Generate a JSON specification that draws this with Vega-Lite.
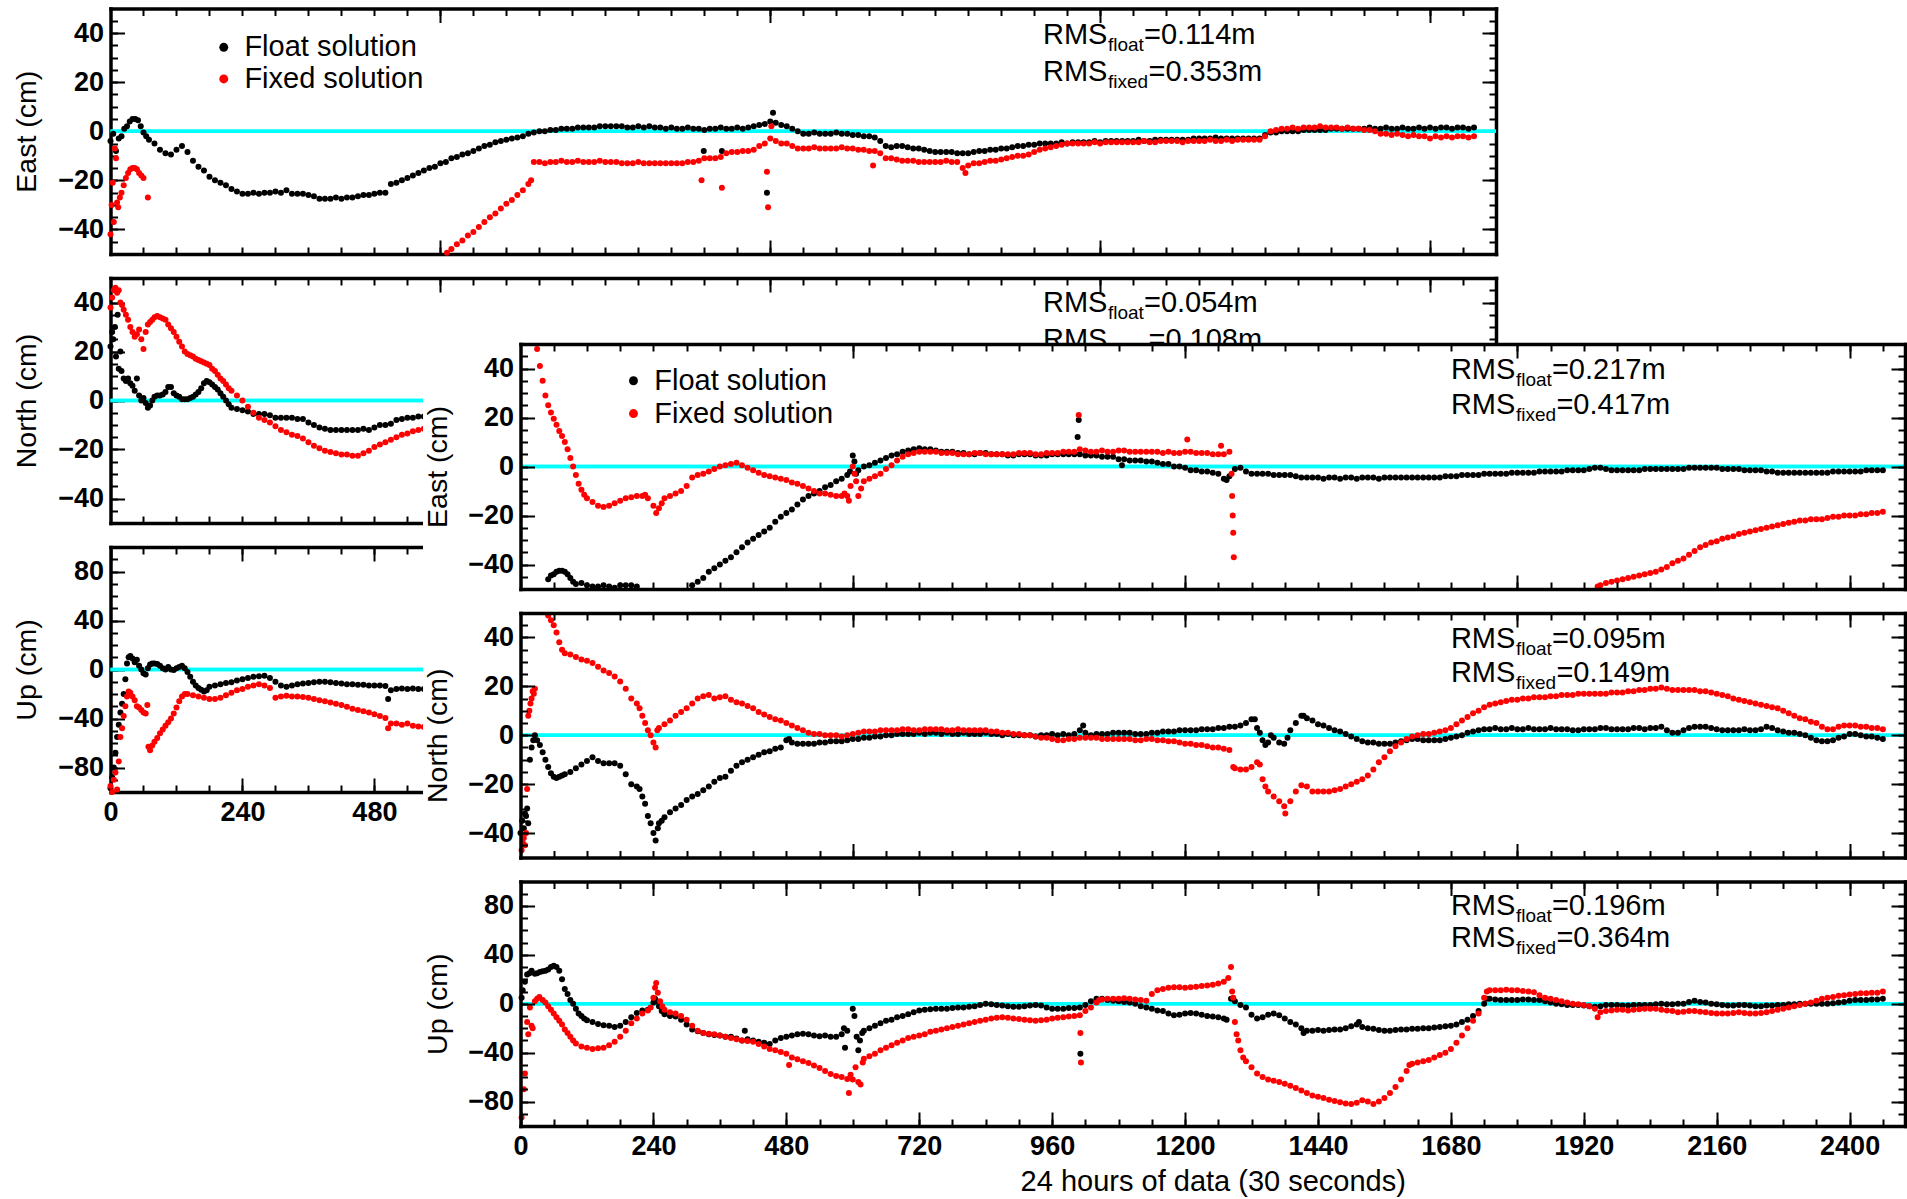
{
"$schema":"https://vega.github.io/schema/vega-lite/v6.json",
"width":1907,"height":1199,"autosize":"none","padding":0,
"background":"white",
"config":{"view":{"stroke":null},
"axis":{"domainColor":"#000","tickColor":"#000","labelColor":"#000","titleColor":"#000","labelFont":"Liberation Sans","titleFont":"Liberation Sans","labelFontSize":27,"labelFontWeight":"bold","titleFontSize":28.5,"titleFontWeight":"normal","grid":false,"tickWidth":2,"domainWidth":3.5,"domainCap":"square","labelFlush":false,"labelOverlap":false,"labelPadding":21},
"text":{"font":"Liberation Sans","color":"black"}},
"data":{"values":[{"note":"annotation"}]},
"datasets":{
"bEf":[{"x":0,"y":-4},{"x":5,"y":-1},{"x":10,"y":-8},{"x":15,"y":-3},{"x":20,"y":-2},{"x":25,"y":1},{"x":30,"y":2},{"x":35,"y":4},{"x":40,"y":5},{"x":45,"y":5},{"x":50,"y":4.5},{"x":55,"y":2},{"x":60,"y":-0.5},{"x":65,"y":-2},{"x":70,"y":-3.5},{"x":80,"y":-5},{"x":90,"y":-7.5},{"x":100,"y":-9},{"x":110,"y":-9.5},{"x":120,"y":-7.5},{"x":130,"y":-6},{"x":140,"y":-8.5},{"x":150,"y":-12},{"x":160,"y":-14.5},{"x":170,"y":-16},{"x":180,"y":-18.5},{"x":190,"y":-20},{"x":200,"y":-21},{"x":210,"y":-22},{"x":220,"y":-23.5},{"x":230,"y":-24.5},{"x":240,"y":-25.5},{"x":250,"y":-25.5},{"x":260,"y":-25},{"x":270,"y":-25.5},{"x":280,"y":-25},{"x":290,"y":-25},{"x":300,"y":-24.5},{"x":310,"y":-25},{"x":320,"y":-24},{"x":330,"y":-25.5},{"x":340,"y":-25.5},{"x":350,"y":-25.5},{"x":360,"y":-26},{"x":370,"y":-26.5},{"x":380,"y":-27.5},{"x":390,"y":-27.5},{"x":400,"y":-27.5},{"x":410,"y":-27},{"x":420,"y":-27.5},{"x":430,"y":-27},{"x":440,"y":-27},{"x":450,"y":-26.5},{"x":460,"y":-26},{"x":470,"y":-26},{"x":480,"y":-25.5},{"x":490,"y":-25},{"x":500,"y":-25},{"x":510,"y":-21.5},{"x":520,"y":-21},{"x":530,"y":-20},{"x":540,"y":-19},{"x":550,"y":-18},{"x":560,"y":-17},{"x":570,"y":-16},{"x":580,"y":-15},{"x":590,"y":-14.5},{"x":600,"y":-13},{"x":610,"y":-12.5},{"x":620,"y":-11},{"x":630,"y":-10.5},{"x":640,"y":-9.5},{"x":650,"y":-9},{"x":660,"y":-8},{"x":670,"y":-7},{"x":680,"y":-6},{"x":690,"y":-5.5},{"x":700,"y":-4.5},{"x":710,"y":-4},{"x":720,"y":-3.5},{"x":730,"y":-3},{"x":740,"y":-2.5},{"x":750,"y":-2},{"x":760,"y":-1},{"x":770,"y":-0.5},{"x":780,"y":0},{"x":790,"y":0},{"x":800,"y":0.5},{"x":810,"y":0.5},{"x":820,"y":1},{"x":830,"y":1},{"x":840,"y":1},{"x":850,"y":1.5},{"x":860,"y":1.5},{"x":870,"y":1.5},{"x":880,"y":1.5},{"x":890,"y":2},{"x":900,"y":2},{"x":910,"y":2},{"x":920,"y":2},{"x":930,"y":2},{"x":940,"y":1.5},{"x":950,"y":1.5},{"x":960,"y":2},{"x":970,"y":1.5},{"x":980,"y":2},{"x":990,"y":1.5},{"x":1000,"y":1.5},{"x":1010,"y":1},{"x":1020,"y":1.5},{"x":1030,"y":1},{"x":1040,"y":1},{"x":1050,"y":1.5},{"x":1060,"y":1},{"x":1070,"y":1},{"x":1079,"y":-8},{"x":1080,"y":0.5},{"x":1090,"y":1},{"x":1100,"y":1},{"x":1110,"y":1.5},{"x":1112,"y":-8},{"x":1120,"y":1},{"x":1130,"y":1},{"x":1140,"y":1.5},{"x":1150,"y":1},{"x":1160,"y":1.5},{"x":1170,"y":2},{"x":1180,"y":2.5},{"x":1190,"y":3},{"x":1194,"y":-25},{"x":1200,"y":4},{"x":1205,"y":7.5},{"x":1210,"y":3.5},{"x":1220,"y":2.5},{"x":1230,"y":2},{"x":1240,"y":1},{"x":1250,"y":0},{"x":1260,"y":-1},{"x":1270,"y":-1},{"x":1280,"y":-0.5},{"x":1290,"y":-1},{"x":1300,"y":-1},{"x":1310,"y":-1},{"x":1320,"y":-0.5},{"x":1330,"y":-1},{"x":1340,"y":-1},{"x":1350,"y":-1.5},{"x":1360,"y":-1.5},{"x":1370,"y":-2},{"x":1380,"y":-2},{"x":1390,"y":-2.5},{"x":1400,"y":-4},{"x":1410,"y":-6},{"x":1420,"y":-6.5},{"x":1430,"y":-6},{"x":1440,"y":-6},{"x":1450,"y":-6.5},{"x":1460,"y":-7},{"x":1470,"y":-7},{"x":1480,"y":-7.5},{"x":1490,"y":-8},{"x":1500,"y":-8.5},{"x":1510,"y":-8.5},{"x":1520,"y":-8.5},{"x":1530,"y":-8.5},{"x":1540,"y":-9},{"x":1550,"y":-9},{"x":1560,"y":-9},{"x":1570,"y":-8.5},{"x":1580,"y":-8},{"x":1590,"y":-8},{"x":1600,"y":-7.5},{"x":1610,"y":-7.5},{"x":1620,"y":-7},{"x":1630,"y":-7},{"x":1640,"y":-6.5},{"x":1650,"y":-6},{"x":1660,"y":-6},{"x":1670,"y":-5.5},{"x":1680,"y":-5.5},{"x":1690,"y":-5},{"x":1700,"y":-5},{"x":1710,"y":-5},{"x":1720,"y":-5},{"x":1730,"y":-4.5},{"x":1740,"y":-5},{"x":1750,"y":-4.5},{"x":1760,"y":-4.5},{"x":1770,"y":-4.5},{"x":1780,"y":-4.5},{"x":1790,"y":-4},{"x":1800,"y":-4.5},{"x":1810,"y":-4},{"x":1820,"y":-4},{"x":1830,"y":-4},{"x":1840,"y":-4},{"x":1850,"y":-4},{"x":1860,"y":-4},{"x":1870,"y":-3.5},{"x":1880,"y":-4},{"x":1890,"y":-4},{"x":1900,"y":-3.5},{"x":1910,"y":-3.5},{"x":1920,"y":-3.5},{"x":1930,"y":-3.5},{"x":1940,"y":-3.5},{"x":1950,"y":-3.5},{"x":1960,"y":-3.5},{"x":1970,"y":-3},{"x":1980,"y":-3},{"x":1990,"y":-3},{"x":2000,"y":-3},{"x":2010,"y":-2.5},{"x":2020,"y":-3},{"x":2030,"y":-3},{"x":2040,"y":-3},{"x":2050,"y":-3},{"x":2060,"y":-3},{"x":2070,"y":-3},{"x":2080,"y":-3},{"x":2090,"y":-3},{"x":2100,"y":-1.5},{"x":2110,"y":-0.5},{"x":2120,"y":-0.5},{"x":2130,"y":0},{"x":2140,"y":0},{"x":2150,"y":0},{"x":2160,"y":0},{"x":2170,"y":0.5},{"x":2180,"y":0.5},{"x":2190,"y":0.5},{"x":2200,"y":0.5},{"x":2210,"y":0.5},{"x":2220,"y":1},{"x":2230,"y":1},{"x":2240,"y":1},{"x":2250,"y":1},{"x":2260,"y":1},{"x":2270,"y":1},{"x":2280,"y":1},{"x":2290,"y":1.5},{"x":2300,"y":1},{"x":2310,"y":1},{"x":2320,"y":1.5},{"x":2330,"y":1},{"x":2340,"y":1},{"x":2350,"y":1.5},{"x":2360,"y":1},{"x":2370,"y":1},{"x":2380,"y":1.5},{"x":2390,"y":1},{"x":2400,"y":1.5},{"x":2410,"y":1},{"x":2420,"y":1.5},{"x":2430,"y":1.5},{"x":2440,"y":1},{"x":2450,"y":1.5},{"x":2460,"y":1.5},{"x":2470,"y":1},{"x":2480,"y":1.5}],
"bEx":[{"x":0,"y":-42},{"x":2,"y":-30},{"x":4,"y":-21},{"x":6,"y":-37},{"x":8,"y":-7},{"x":10,"y":-11},{"x":12,"y":-29},{"x":14,"y":-31},{"x":17,"y":-27},{"x":20,"y":-25},{"x":24,"y":-22},{"x":28,"y":-19},{"x":32,"y":-17},{"x":36,"y":-15.5},{"x":40,"y":-15},{"x":44,"y":-15},{"x":48,"y":-15.5},{"x":52,"y":-17},{"x":56,"y":-18},{"x":60,"y":-19},{"x":68,"y":-27},{"x":612,"y":-49.5},{"x":620,"y":-48},{"x":630,"y":-46},{"x":640,"y":-44.5},{"x":650,"y":-42.5},{"x":660,"y":-41},{"x":670,"y":-39},{"x":680,"y":-37},{"x":690,"y":-35},{"x":700,"y":-33.5},{"x":710,"y":-31.5},{"x":720,"y":-29.5},{"x":730,"y":-28},{"x":740,"y":-26},{"x":750,"y":-24},{"x":760,"y":-21.5},{"x":765,"y":-20},{"x":770,"y":-12.5},{"x":780,"y":-12.5},{"x":790,"y":-13},{"x":800,"y":-12.5},{"x":810,"y":-12.5},{"x":820,"y":-12},{"x":830,"y":-12.5},{"x":840,"y":-12.5},{"x":850,"y":-12},{"x":860,"y":-12.5},{"x":870,"y":-12.5},{"x":880,"y":-12.5},{"x":890,"y":-12},{"x":900,"y":-12.5},{"x":910,"y":-12.5},{"x":920,"y":-12.5},{"x":930,"y":-13},{"x":940,"y":-13},{"x":950,"y":-13},{"x":960,"y":-12.5},{"x":970,"y":-13},{"x":980,"y":-13},{"x":990,"y":-13},{"x":1000,"y":-13},{"x":1010,"y":-13},{"x":1020,"y":-13},{"x":1030,"y":-13},{"x":1040,"y":-13},{"x":1050,"y":-12.5},{"x":1060,"y":-12.5},{"x":1070,"y":-12},{"x":1075,"y":-20},{"x":1080,"y":-11},{"x":1090,"y":-11},{"x":1100,"y":-11},{"x":1110,"y":-10.5},{"x":1112,"y":-23},{"x":1120,"y":-9},{"x":1130,"y":-8.5},{"x":1140,"y":-8.5},{"x":1150,"y":-8},{"x":1160,"y":-8},{"x":1170,"y":-7.5},{"x":1180,"y":-6},{"x":1190,"y":-5},{"x":1194,"y":-16.5},{"x":1196,"y":-31},{"x":1200,"y":-3},{"x":1202,"y":2},{"x":1210,"y":-4},{"x":1220,"y":-5},{"x":1230,"y":-5},{"x":1240,"y":-6},{"x":1250,"y":-7},{"x":1260,"y":-7},{"x":1270,"y":-7},{"x":1280,"y":-6.5},{"x":1290,"y":-7},{"x":1300,"y":-7},{"x":1310,"y":-7},{"x":1320,"y":-7},{"x":1330,"y":-6.5},{"x":1340,"y":-7},{"x":1350,"y":-7},{"x":1360,"y":-7.5},{"x":1370,"y":-7.5},{"x":1380,"y":-8},{"x":1387,"y":-14},{"x":1390,"y":-8},{"x":1400,"y":-9},{"x":1410,"y":-11},{"x":1420,"y":-11},{"x":1430,"y":-11.5},{"x":1440,"y":-12},{"x":1450,"y":-12},{"x":1460,"y":-12},{"x":1470,"y":-12.5},{"x":1480,"y":-12.5},{"x":1490,"y":-12.5},{"x":1500,"y":-12.5},{"x":1510,"y":-12.5},{"x":1520,"y":-12},{"x":1530,"y":-12.5},{"x":1540,"y":-12.5},{"x":1550,"y":-15},{"x":1555,"y":-17},{"x":1560,"y":-14},{"x":1570,"y":-13},{"x":1580,"y":-13},{"x":1590,"y":-12.5},{"x":1600,"y":-12},{"x":1610,"y":-12},{"x":1620,"y":-11.5},{"x":1630,"y":-11},{"x":1640,"y":-10.5},{"x":1650,"y":-10},{"x":1660,"y":-10},{"x":1670,"y":-9.5},{"x":1680,"y":-8.5},{"x":1690,"y":-7.5},{"x":1700,"y":-7},{"x":1710,"y":-6.5},{"x":1720,"y":-6},{"x":1730,"y":-5.5},{"x":1740,"y":-5},{"x":1750,"y":-5},{"x":1760,"y":-5},{"x":1770,"y":-5},{"x":1780,"y":-5},{"x":1790,"y":-4.5},{"x":1800,"y":-5},{"x":1810,"y":-4.5},{"x":1820,"y":-4.5},{"x":1830,"y":-4.5},{"x":1840,"y":-4.5},{"x":1850,"y":-4.5},{"x":1860,"y":-4.5},{"x":1870,"y":-4.5},{"x":1880,"y":-4},{"x":1890,"y":-4.5},{"x":1900,"y":-4.5},{"x":1910,"y":-4},{"x":1920,"y":-4},{"x":1930,"y":-4},{"x":1940,"y":-4},{"x":1950,"y":-4.5},{"x":1960,"y":-4},{"x":1970,"y":-4},{"x":1980,"y":-4},{"x":1990,"y":-4},{"x":2000,"y":-3.5},{"x":2010,"y":-4},{"x":2020,"y":-4},{"x":2030,"y":-3.5},{"x":2040,"y":-4},{"x":2050,"y":-3.5},{"x":2060,"y":-3.5},{"x":2070,"y":-3.5},{"x":2080,"y":-3.5},{"x":2090,"y":-3.5},{"x":2100,"y":-2},{"x":2110,"y":0},{"x":2120,"y":0.5},{"x":2130,"y":1},{"x":2140,"y":1},{"x":2150,"y":1.5},{"x":2160,"y":1},{"x":2170,"y":1.5},{"x":2180,"y":1.5},{"x":2190,"y":1.5},{"x":2200,"y":2},{"x":2210,"y":1.5},{"x":2220,"y":1.5},{"x":2230,"y":1.5},{"x":2240,"y":1},{"x":2250,"y":1.5},{"x":2260,"y":1},{"x":2270,"y":1},{"x":2280,"y":0.5},{"x":2290,"y":0.5},{"x":2300,"y":0},{"x":2310,"y":-1},{"x":2320,"y":-1},{"x":2330,"y":-1.5},{"x":2340,"y":-1},{"x":2350,"y":-1.5},{"x":2360,"y":-2},{"x":2370,"y":-1.5},{"x":2380,"y":-2},{"x":2390,"y":-2},{"x":2400,"y":-3},{"x":2410,"y":-2},{"x":2420,"y":-2.5},{"x":2430,"y":-2},{"x":2440,"y":-2.5},{"x":2450,"y":-2},{"x":2460,"y":-2},{"x":2470,"y":-2.5},{"x":2480,"y":-2}],
"bNf":[{"x":0,"y":22},{"x":3,"y":28},{"x":5,"y":25},{"x":8,"y":30},{"x":10,"y":18},{"x":13,"y":35},{"x":15,"y":13},{"x":18,"y":20},{"x":20,"y":12},{"x":24,"y":9},{"x":28,"y":8},{"x":32,"y":9},{"x":36,"y":7},{"x":40,"y":6},{"x":44,"y":4},{"x":48,"y":9},{"x":52,"y":2},{"x":56,"y":0},{"x":60,"y":1},{"x":64,"y":-1},{"x":68,"y":-3},{"x":72,"y":-2},{"x":76,"y":0},{"x":80,"y":1.5},{"x":85,"y":2},{"x":90,"y":2},{"x":95,"y":2.5},{"x":100,"y":3.5},{"x":105,"y":5.5},{"x":110,"y":5.5},{"x":115,"y":3},{"x":120,"y":2},{"x":125,"y":1.5},{"x":130,"y":0.5},{"x":135,"y":0.5},{"x":140,"y":0.5},{"x":145,"y":1},{"x":150,"y":1.5},{"x":155,"y":2.5},{"x":160,"y":3.5},{"x":165,"y":5},{"x":170,"y":7},{"x":175,"y":8},{"x":180,"y":7.5},{"x":185,"y":6.5},{"x":190,"y":5.5},{"x":195,"y":4.5},{"x":200,"y":3},{"x":205,"y":1.5},{"x":210,"y":0},{"x":215,"y":-1.5},{"x":220,"y":-3},{"x":230,"y":-3.5},{"x":240,"y":-4},{"x":250,"y":-4.5},{"x":260,"y":-5.5},{"x":270,"y":-5.5},{"x":280,"y":-5.5},{"x":290,"y":-6},{"x":300,"y":-7},{"x":310,"y":-7},{"x":320,"y":-7},{"x":330,"y":-7},{"x":340,"y":-7.5},{"x":350,"y":-7.5},{"x":360,"y":-9},{"x":370,"y":-10},{"x":380,"y":-11},{"x":390,"y":-11.5},{"x":400,"y":-12},{"x":410,"y":-12},{"x":420,"y":-12},{"x":430,"y":-12},{"x":440,"y":-12},{"x":450,"y":-12},{"x":460,"y":-11.5},{"x":470,"y":-12},{"x":480,"y":-11},{"x":490,"y":-10},{"x":500,"y":-10},{"x":510,"y":-9.5},{"x":520,"y":-8},{"x":530,"y":-7.5},{"x":540,"y":-7},{"x":550,"y":-7},{"x":560,"y":-6.5},{"x":570,"y":-6.5}],
"bNx":[{"x":0,"y":38},{"x":3,"y":42},{"x":6,"y":45},{"x":9,"y":46},{"x":12,"y":44},{"x":15,"y":45},{"x":18,"y":40},{"x":21,"y":39},{"x":24,"y":37},{"x":28,"y":35},{"x":32,"y":33},{"x":36,"y":30},{"x":40,"y":28},{"x":44,"y":26},{"x":48,"y":27},{"x":52,"y":29},{"x":56,"y":25},{"x":60,"y":21},{"x":64,"y":28},{"x":68,"y":31},{"x":72,"y":32},{"x":76,"y":33},{"x":80,"y":34},{"x":85,"y":34.5},{"x":90,"y":34},{"x":95,"y":33.5},{"x":100,"y":33},{"x":105,"y":31},{"x":110,"y":29.5},{"x":115,"y":28},{"x":120,"y":26},{"x":125,"y":24},{"x":130,"y":22},{"x":135,"y":20},{"x":140,"y":19},{"x":145,"y":18.5},{"x":150,"y":18},{"x":155,"y":17},{"x":160,"y":16.5},{"x":165,"y":16},{"x":170,"y":15.5},{"x":175,"y":15},{"x":180,"y":14.5},{"x":185,"y":13},{"x":190,"y":12},{"x":195,"y":10.5},{"x":200,"y":9},{"x":205,"y":8},{"x":210,"y":6.5},{"x":215,"y":5},{"x":220,"y":4},{"x":230,"y":2},{"x":240,"y":0},{"x":250,"y":-2.5},{"x":260,"y":-5},{"x":270,"y":-7},{"x":280,"y":-8},{"x":290,"y":-9},{"x":300,"y":-10.5},{"x":310,"y":-12},{"x":320,"y":-13},{"x":330,"y":-14},{"x":340,"y":-14.5},{"x":350,"y":-15.5},{"x":360,"y":-17},{"x":370,"y":-18.5},{"x":380,"y":-19.5},{"x":390,"y":-20.5},{"x":400,"y":-21},{"x":410,"y":-21.5},{"x":420,"y":-22},{"x":430,"y":-22},{"x":440,"y":-22.5},{"x":450,"y":-22.5},{"x":460,"y":-21.5},{"x":470,"y":-20.5},{"x":480,"y":-19},{"x":490,"y":-18},{"x":500,"y":-17},{"x":510,"y":-16},{"x":520,"y":-15},{"x":530,"y":-14},{"x":540,"y":-13.5},{"x":550,"y":-12.5},{"x":560,"y":-12},{"x":570,"y":-11.5}],
"bUf":[{"x":0,"y":-97},{"x":3,"y":-88},{"x":6,"y":-80},{"x":9,"y":-68},{"x":12,"y":-55},{"x":15,"y":-45},{"x":18,"y":-35},{"x":21,"y":-28},{"x":24,"y":-20},{"x":27,"y":-8},{"x":30,"y":5},{"x":33,"y":10},{"x":36,"y":11},{"x":40,"y":9},{"x":44,"y":6},{"x":48,"y":8},{"x":52,"y":3},{"x":56,"y":0},{"x":60,"y":-3},{"x":64,"y":-4},{"x":68,"y":1},{"x":72,"y":4},{"x":76,"y":5},{"x":80,"y":5},{"x":85,"y":4.5},{"x":90,"y":3},{"x":95,"y":1},{"x":100,"y":0},{"x":105,"y":2},{"x":110,"y":0},{"x":115,"y":-0.5},{"x":120,"y":1},{"x":125,"y":2},{"x":130,"y":3},{"x":135,"y":1},{"x":140,"y":-2},{"x":145,"y":-6},{"x":150,"y":-10},{"x":155,"y":-13},{"x":160,"y":-15},{"x":165,"y":-16.5},{"x":170,"y":-18},{"x":175,"y":-17},{"x":180,"y":-14},{"x":190,"y":-13},{"x":200,"y":-12},{"x":210,"y":-11},{"x":220,"y":-10.5},{"x":230,"y":-9},{"x":240,"y":-8},{"x":250,"y":-7},{"x":260,"y":-6},{"x":270,"y":-5.5},{"x":280,"y":-5},{"x":290,"y":-7},{"x":300,"y":-10},{"x":310,"y":-13},{"x":320,"y":-14},{"x":330,"y":-13},{"x":340,"y":-12},{"x":350,"y":-11.5},{"x":360,"y":-11},{"x":370,"y":-10.5},{"x":380,"y":-10},{"x":390,"y":-10},{"x":400,"y":-10.5},{"x":410,"y":-11},{"x":420,"y":-11.5},{"x":430,"y":-12},{"x":440,"y":-12},{"x":450,"y":-12.5},{"x":460,"y":-12.5},{"x":470,"y":-13},{"x":480,"y":-13},{"x":490,"y":-13},{"x":500,"y":-13.5},{"x":505,"y":-24},{"x":510,"y":-17},{"x":520,"y":-16},{"x":530,"y":-15.5},{"x":540,"y":-16},{"x":550,"y":-15.5},{"x":560,"y":-16},{"x":570,"y":-16}],
"bUx":[{"x":0,"y":-95},{"x":3,"y":-100},{"x":6,"y":-90},{"x":9,"y":-84},{"x":12,"y":-98},{"x":15,"y":-75},{"x":18,"y":-55},{"x":21,"y":-48},{"x":24,"y":-38},{"x":27,"y":-30},{"x":30,"y":-22},{"x":33,"y":-18},{"x":36,"y":-19},{"x":40,"y":-22},{"x":44,"y":-25},{"x":48,"y":-30},{"x":52,"y":-31},{"x":56,"y":-33},{"x":60,"y":-35},{"x":64,"y":-36},{"x":67,"y":-29},{"x":69,"y":-63},{"x":72,"y":-66},{"x":76,"y":-62},{"x":80,"y":-59},{"x":85,"y":-56},{"x":90,"y":-52},{"x":95,"y":-49},{"x":100,"y":-46},{"x":105,"y":-43},{"x":110,"y":-40},{"x":115,"y":-36},{"x":120,"y":-31},{"x":125,"y":-26},{"x":130,"y":-22},{"x":135,"y":-20},{"x":140,"y":-20},{"x":150,"y":-21},{"x":160,"y":-22},{"x":170,"y":-23},{"x":180,"y":-24},{"x":190,"y":-24},{"x":200,"y":-23},{"x":210,"y":-21},{"x":220,"y":-19},{"x":230,"y":-17},{"x":240,"y":-16},{"x":250,"y":-14},{"x":260,"y":-13},{"x":270,"y":-12},{"x":280,"y":-13},{"x":290,"y":-15},{"x":300,"y":-23},{"x":310,"y":-22},{"x":320,"y":-21.5},{"x":330,"y":-22},{"x":340,"y":-22},{"x":350,"y":-22.5},{"x":360,"y":-23},{"x":370,"y":-24},{"x":380,"y":-25},{"x":390,"y":-26},{"x":400,"y":-27},{"x":410,"y":-28},{"x":420,"y":-29},{"x":430,"y":-30.5},{"x":440,"y":-32},{"x":450,"y":-33},{"x":460,"y":-34},{"x":470,"y":-35},{"x":480,"y":-36.5},{"x":490,"y":-38},{"x":500,"y":-39.5},{"x":505,"y":-48},{"x":510,"y":-44},{"x":520,"y":-44},{"x":530,"y":-45},{"x":540,"y":-44},{"x":550,"y":-46},{"x":560,"y":-46.5},{"x":570,"y":-47}],
"fEf":[{"x":50,"y":-46},{"x":55,"y":-44.5},{"x":60,"y":-44},{"x":65,"y":-43},{"x":70,"y":-42.5},{"x":75,"y":-42.5},{"x":80,"y":-43},{"x":85,"y":-44},{"x":90,"y":-45.5},{"x":95,"y":-47},{"x":100,"y":-48},{"x":110,"y":-47.5},{"x":120,"y":-48.5},{"x":130,"y":-49},{"x":140,"y":-49},{"x":150,"y":-48.5},{"x":160,"y":-49},{"x":170,"y":-49.5},{"x":180,"y":-48.5},{"x":190,"y":-48.5},{"x":200,"y":-48.5},{"x":210,"y":-49},{"x":310,"y":-48.5},{"x":320,"y":-47},{"x":330,"y":-45.5},{"x":340,"y":-43},{"x":350,"y":-41.5},{"x":360,"y":-40},{"x":370,"y":-38.5},{"x":380,"y":-37},{"x":390,"y":-35},{"x":400,"y":-33},{"x":410,"y":-31},{"x":420,"y":-29.5},{"x":430,"y":-28},{"x":440,"y":-26.5},{"x":450,"y":-25},{"x":460,"y":-22.5},{"x":470,"y":-20.5},{"x":480,"y":-19},{"x":490,"y":-17.5},{"x":500,"y":-15.5},{"x":510,"y":-13.5},{"x":520,"y":-12},{"x":530,"y":-11},{"x":540,"y":-10},{"x":550,"y":-8.5},{"x":560,"y":-7.5},{"x":570,"y":-6},{"x":580,"y":-5},{"x":590,"y":-3.5},{"x":595,"y":-2},{"x":600,"y":4.5},{"x":603,"y":2},{"x":606,"y":-3},{"x":610,"y":-1.5},{"x":620,"y":0},{"x":630,"y":0.5},{"x":640,"y":1.5},{"x":650,"y":2.5},{"x":660,"y":3.5},{"x":670,"y":4.5},{"x":680,"y":5},{"x":690,"y":6},{"x":700,"y":6.5},{"x":710,"y":7},{"x":720,"y":7.5},{"x":730,"y":7},{"x":740,"y":7},{"x":750,"y":6.5},{"x":760,"y":6},{"x":770,"y":6},{"x":780,"y":6},{"x":790,"y":5.5},{"x":800,"y":5.5},{"x":810,"y":5},{"x":820,"y":5},{"x":830,"y":5.5},{"x":840,"y":5.5},{"x":850,"y":5},{"x":860,"y":5},{"x":870,"y":5},{"x":880,"y":4.5},{"x":890,"y":4.5},{"x":900,"y":5},{"x":910,"y":5},{"x":920,"y":5},{"x":930,"y":4.5},{"x":940,"y":4.5},{"x":950,"y":4.5},{"x":960,"y":5},{"x":970,"y":5},{"x":980,"y":5},{"x":990,"y":5},{"x":1000,"y":5},{"x":1006,"y":12},{"x":1008,"y":19},{"x":1010,"y":5},{"x":1020,"y":4.5},{"x":1030,"y":4.5},{"x":1040,"y":4.5},{"x":1050,"y":4},{"x":1060,"y":4},{"x":1070,"y":4},{"x":1080,"y":3},{"x":1086,"y":0.5},{"x":1090,"y":3},{"x":1100,"y":2.5},{"x":1110,"y":2.5},{"x":1120,"y":2.5},{"x":1130,"y":2},{"x":1140,"y":2},{"x":1150,"y":1.5},{"x":1160,"y":1},{"x":1170,"y":1},{"x":1180,"y":0},{"x":1190,"y":0},{"x":1200,"y":-0.5},{"x":1210,"y":-1.5},{"x":1220,"y":-1.5},{"x":1230,"y":-2},{"x":1240,"y":-2},{"x":1250,"y":-2.5},{"x":1260,"y":-3},{"x":1270,"y":-5},{"x":1275,"y":-5.5},{"x":1280,"y":-4},{"x":1290,"y":-1},{"x":1300,"y":-0.5},{"x":1310,"y":-2},{"x":1320,"y":-3},{"x":1330,"y":-3},{"x":1340,"y":-3},{"x":1350,"y":-3},{"x":1360,"y":-3.5},{"x":1370,"y":-3.5},{"x":1380,"y":-3.5},{"x":1390,"y":-3.5},{"x":1400,"y":-4},{"x":1410,"y":-4.5},{"x":1420,"y":-4.5},{"x":1430,"y":-4.5},{"x":1440,"y":-4.5},{"x":1450,"y":-5},{"x":1460,"y":-4.5},{"x":1470,"y":-4.5},{"x":1480,"y":-5},{"x":1490,"y":-4.5},{"x":1500,"y":-4.5},{"x":1510,"y":-5},{"x":1520,"y":-4.5},{"x":1530,"y":-4.5},{"x":1540,"y":-4.5},{"x":1550,"y":-5},{"x":1560,"y":-4.5},{"x":1570,"y":-4.5},{"x":1580,"y":-4.5},{"x":1590,"y":-4.5},{"x":1600,"y":-4.5},{"x":1610,"y":-4.5},{"x":1620,"y":-4.5},{"x":1630,"y":-4.5},{"x":1640,"y":-4.5},{"x":1650,"y":-4.5},{"x":1660,"y":-4.5},{"x":1670,"y":-4},{"x":1680,"y":-4},{"x":1690,"y":-4},{"x":1700,"y":-3.5},{"x":1710,"y":-3.5},{"x":1720,"y":-3.5},{"x":1730,"y":-3.5},{"x":1740,"y":-3},{"x":1750,"y":-3},{"x":1760,"y":-3},{"x":1770,"y":-3},{"x":1780,"y":-3},{"x":1790,"y":-2.5},{"x":1800,"y":-2.5},{"x":1810,"y":-2.5},{"x":1820,"y":-2.5},{"x":1830,"y":-2.5},{"x":1840,"y":-2},{"x":1850,"y":-2},{"x":1860,"y":-2},{"x":1870,"y":-2},{"x":1880,"y":-2},{"x":1890,"y":-1.5},{"x":1900,"y":-1.5},{"x":1910,"y":-1.5},{"x":1920,"y":-1.5},{"x":1930,"y":-1},{"x":1940,"y":-0.5},{"x":1950,"y":-0.5},{"x":1960,"y":-1},{"x":1970,"y":-1.5},{"x":1980,"y":-1.5},{"x":1990,"y":-1.5},{"x":2000,"y":-1.5},{"x":2010,"y":-1.5},{"x":2020,"y":-1.5},{"x":2030,"y":-1},{"x":2040,"y":-1},{"x":2050,"y":-1},{"x":2060,"y":-1},{"x":2070,"y":-1},{"x":2080,"y":-1},{"x":2090,"y":-1},{"x":2100,"y":-1},{"x":2110,"y":-0.5},{"x":2120,"y":-0.5},{"x":2130,"y":-0.5},{"x":2140,"y":-0.5},{"x":2150,"y":-0.5},{"x":2160,"y":-0.5},{"x":2170,"y":-1},{"x":2180,"y":-1},{"x":2190,"y":-1},{"x":2200,"y":-1},{"x":2210,"y":-1.5},{"x":2220,"y":-1.5},{"x":2230,"y":-1.5},{"x":2240,"y":-1.5},{"x":2250,"y":-2},{"x":2260,"y":-2},{"x":2270,"y":-2.5},{"x":2280,"y":-2.5},{"x":2290,"y":-2.5},{"x":2300,"y":-2.5},{"x":2310,"y":-2.5},{"x":2320,"y":-2.5},{"x":2330,"y":-2.5},{"x":2340,"y":-2.5},{"x":2350,"y":-2.5},{"x":2360,"y":-2.5},{"x":2370,"y":-2},{"x":2380,"y":-2},{"x":2390,"y":-2},{"x":2400,"y":-2},{"x":2410,"y":-2},{"x":2420,"y":-2},{"x":2430,"y":-1.5},{"x":2440,"y":-1.5},{"x":2450,"y":-1.5},{"x":2460,"y":-1.5}],
"fEx":[{"x":30,"y":48},{"x":35,"y":41},{"x":40,"y":35},{"x":45,"y":29},{"x":50,"y":25},{"x":55,"y":22},{"x":60,"y":19.5},{"x":65,"y":17},{"x":70,"y":14.5},{"x":75,"y":12.5},{"x":80,"y":10},{"x":85,"y":7},{"x":90,"y":3.5},{"x":95,"y":0},{"x":100,"y":-3.5},{"x":105,"y":-7},{"x":110,"y":-9.5},{"x":115,"y":-11.5},{"x":120,"y":-13},{"x":130,"y":-14.5},{"x":140,"y":-16},{"x":150,"y":-16.5},{"x":160,"y":-16},{"x":170,"y":-15},{"x":180,"y":-14},{"x":190,"y":-13},{"x":200,"y":-12.5},{"x":210,"y":-12},{"x":220,"y":-12},{"x":225,"y":-11.5},{"x":230,"y":-13},{"x":240,"y":-16},{"x":245,"y":-19},{"x":250,"y":-17},{"x":255,"y":-15},{"x":260,"y":-13},{"x":270,"y":-12},{"x":280,"y":-11},{"x":290,"y":-10},{"x":300,"y":-8},{"x":310,"y":-4.5},{"x":320,"y":-3.5},{"x":330,"y":-3},{"x":340,"y":-2},{"x":350,"y":-1},{"x":360,"y":0},{"x":370,"y":0.5},{"x":380,"y":1},{"x":390,"y":1.5},{"x":400,"y":0.5},{"x":410,"y":-0.5},{"x":420,"y":-1.5},{"x":430,"y":-2.5},{"x":440,"y":-3.5},{"x":450,"y":-4},{"x":460,"y":-4.5},{"x":470,"y":-5},{"x":480,"y":-5.5},{"x":490,"y":-6.5},{"x":500,"y":-7},{"x":510,"y":-8},{"x":520,"y":-9},{"x":530,"y":-10},{"x":540,"y":-11},{"x":550,"y":-11},{"x":560,"y":-11.5},{"x":570,"y":-12},{"x":580,"y":-12},{"x":585,"y":-11},{"x":590,"y":-12},{"x":593,"y":-14},{"x":596,"y":-8},{"x":600,"y":0},{"x":603,"y":-3},{"x":606,"y":-6},{"x":610,"y":-12},{"x":615,"y":-9},{"x":620,"y":-6},{"x":630,"y":-5},{"x":640,"y":-4},{"x":650,"y":-3},{"x":660,"y":-1},{"x":670,"y":0.5},{"x":680,"y":2.5},{"x":690,"y":4},{"x":700,"y":5},{"x":710,"y":5.5},{"x":720,"y":6},{"x":730,"y":6},{"x":740,"y":6},{"x":750,"y":6},{"x":760,"y":5.5},{"x":770,"y":5.5},{"x":780,"y":5.5},{"x":790,"y":5},{"x":800,"y":5},{"x":810,"y":5},{"x":820,"y":5.5},{"x":830,"y":5.5},{"x":840,"y":5},{"x":850,"y":5},{"x":860,"y":5},{"x":870,"y":5},{"x":880,"y":5},{"x":890,"y":5},{"x":900,"y":5.5},{"x":910,"y":5.5},{"x":920,"y":5.5},{"x":930,"y":5},{"x":940,"y":5},{"x":950,"y":5.5},{"x":960,"y":5.5},{"x":970,"y":5.5},{"x":980,"y":6},{"x":990,"y":6},{"x":1000,"y":6},{"x":1008,"y":21},{"x":1010,"y":7},{"x":1020,"y":6.5},{"x":1030,"y":6},{"x":1040,"y":6},{"x":1050,"y":6.5},{"x":1060,"y":6},{"x":1070,"y":6},{"x":1080,"y":6.5},{"x":1090,"y":6.5},{"x":1100,"y":6},{"x":1110,"y":6},{"x":1120,"y":6},{"x":1130,"y":6},{"x":1140,"y":6},{"x":1150,"y":6},{"x":1160,"y":5.5},{"x":1170,"y":6},{"x":1180,"y":5.5},{"x":1190,"y":5.5},{"x":1200,"y":6},{"x":1204,"y":11},{"x":1210,"y":6},{"x":1220,"y":5.5},{"x":1230,"y":5.5},{"x":1240,"y":5.5},{"x":1250,"y":5},{"x":1260,"y":5},{"x":1265,"y":8.5},{"x":1270,"y":5},{"x":1280,"y":6},{"x":1284,"y":-3},{"x":1285,"y":-12},{"x":1286,"y":-20},{"x":1287,"y":-27},{"x":1288,"y":-37},{"x":1945,"y":-49},{"x":1950,"y":-48.5},{"x":1960,"y":-47.5},{"x":1970,"y":-47},{"x":1980,"y":-46.5},{"x":1990,"y":-46},{"x":2000,"y":-45.5},{"x":2010,"y":-45},{"x":2020,"y":-44.5},{"x":2030,"y":-44},{"x":2040,"y":-43.5},{"x":2050,"y":-43},{"x":2060,"y":-42},{"x":2070,"y":-41},{"x":2080,"y":-39.5},{"x":2090,"y":-38.5},{"x":2100,"y":-37.5},{"x":2110,"y":-36},{"x":2120,"y":-34.5},{"x":2130,"y":-33},{"x":2140,"y":-32},{"x":2150,"y":-31},{"x":2160,"y":-30.5},{"x":2170,"y":-29.5},{"x":2180,"y":-29},{"x":2190,"y":-28.5},{"x":2200,"y":-27.5},{"x":2210,"y":-27},{"x":2220,"y":-26.5},{"x":2230,"y":-26},{"x":2240,"y":-25.5},{"x":2250,"y":-25},{"x":2260,"y":-24.5},{"x":2270,"y":-24},{"x":2280,"y":-23.5},{"x":2290,"y":-23},{"x":2300,"y":-22.5},{"x":2310,"y":-22},{"x":2320,"y":-22},{"x":2330,"y":-21.5},{"x":2340,"y":-21.5},{"x":2350,"y":-21.5},{"x":2360,"y":-21},{"x":2370,"y":-20.5},{"x":2380,"y":-20.5},{"x":2390,"y":-20},{"x":2400,"y":-20},{"x":2410,"y":-20},{"x":2420,"y":-19.5},{"x":2430,"y":-19.5},{"x":2440,"y":-19},{"x":2450,"y":-19},{"x":2460,"y":-18.5}],
"fNf":[{"x":0,"y":-40},{"x":3,"y":-35},{"x":6,"y":-38},{"x":8,"y":-32},{"x":10,"y":-33},{"x":12,"y":-30},{"x":14,"y":-36},{"x":17,"y":-10},{"x":20,"y":-5},{"x":23,"y":-2},{"x":26,"y":0},{"x":30,"y":-2},{"x":35,"y":-4},{"x":40,"y":-7},{"x":45,"y":-10},{"x":50,"y":-13},{"x":55,"y":-15.5},{"x":60,"y":-17},{"x":65,"y":-17.5},{"x":70,"y":-17},{"x":75,"y":-16.5},{"x":80,"y":-16},{"x":90,"y":-15},{"x":100,"y":-13.5},{"x":110,"y":-12},{"x":120,"y":-10.5},{"x":130,"y":-9},{"x":140,"y":-10.5},{"x":150,"y":-11.5},{"x":160,"y":-11.5},{"x":170,"y":-11.5},{"x":180,"y":-12.5},{"x":190,"y":-16},{"x":200,"y":-20},{"x":210,"y":-21},{"x":215,"y":-22},{"x":220,"y":-25},{"x":225,"y":-28},{"x":230,"y":-33},{"x":235,"y":-36},{"x":240,"y":-40},{"x":244,"y":-43},{"x":248,"y":-38},{"x":250,"y":-36},{"x":255,"y":-35},{"x":260,"y":-33.5},{"x":270,"y":-31.5},{"x":280,"y":-30},{"x":290,"y":-28.5},{"x":300,"y":-26.5},{"x":310,"y":-25},{"x":320,"y":-24},{"x":330,"y":-22.5},{"x":340,"y":-21},{"x":350,"y":-19},{"x":360,"y":-17.5},{"x":370,"y":-17},{"x":380,"y":-14.5},{"x":390,"y":-12.5},{"x":400,"y":-11},{"x":410,"y":-10},{"x":420,"y":-9},{"x":430,"y":-8},{"x":440,"y":-7},{"x":450,"y":-6.5},{"x":460,"y":-5.5},{"x":470,"y":-5},{"x":480,"y":-2},{"x":485,"y":-1.5},{"x":490,"y":-3},{"x":500,"y":-3.5},{"x":510,"y":-3.5},{"x":520,"y":-3.5},{"x":530,"y":-3.5},{"x":540,"y":-3},{"x":550,"y":-3},{"x":560,"y":-2.5},{"x":570,"y":-2.5},{"x":580,"y":-2.5},{"x":590,"y":-2},{"x":600,"y":-1.5},{"x":610,"y":-1.5},{"x":620,"y":-1},{"x":630,"y":-1},{"x":640,"y":-0.5},{"x":650,"y":-0.5},{"x":660,"y":0},{"x":670,"y":0},{"x":680,"y":0.5},{"x":690,"y":0.5},{"x":700,"y":0.5},{"x":710,"y":0.5},{"x":720,"y":1},{"x":730,"y":0.5},{"x":740,"y":1},{"x":750,"y":1},{"x":760,"y":0.5},{"x":770,"y":1},{"x":780,"y":0.5},{"x":790,"y":0.5},{"x":800,"y":1},{"x":810,"y":0.5},{"x":820,"y":0.5},{"x":830,"y":0.5},{"x":840,"y":1},{"x":850,"y":0.5},{"x":860,"y":0.5},{"x":870,"y":0},{"x":880,"y":0.5},{"x":890,"y":0},{"x":900,"y":0},{"x":910,"y":0},{"x":920,"y":0},{"x":930,"y":-0.5},{"x":940,"y":0},{"x":950,"y":0},{"x":960,"y":0.5},{"x":970,"y":0},{"x":980,"y":0.5},{"x":990,"y":0},{"x":1000,"y":0.5},{"x":1010,"y":2},{"x":1016,"y":4},{"x":1020,"y":1},{"x":1030,"y":0},{"x":1040,"y":0.5},{"x":1050,"y":0.5},{"x":1060,"y":0.5},{"x":1070,"y":1},{"x":1080,"y":1},{"x":1090,"y":1},{"x":1100,"y":1},{"x":1110,"y":0.5},{"x":1120,"y":0.5},{"x":1130,"y":0.5},{"x":1140,"y":1},{"x":1150,"y":1},{"x":1160,"y":1.5},{"x":1170,"y":1.5},{"x":1180,"y":1.5},{"x":1190,"y":2},{"x":1200,"y":2},{"x":1210,"y":2},{"x":1220,"y":2},{"x":1230,"y":2.5},{"x":1240,"y":2.5},{"x":1250,"y":2.5},{"x":1260,"y":3},{"x":1270,"y":3},{"x":1280,"y":3.5},{"x":1290,"y":3.5},{"x":1300,"y":4},{"x":1310,"y":5},{"x":1320,"y":6.5},{"x":1326,"y":6.5},{"x":1330,"y":3},{"x":1335,"y":1},{"x":1340,"y":-2},{"x":1345,"y":-4},{"x":1350,"y":-3},{"x":1355,"y":0},{"x":1360,"y":-1},{"x":1370,"y":-3},{"x":1379,"y":-3.5},{"x":1385,"y":-1},{"x":1390,"y":2},{"x":1400,"y":5},{"x":1410,"y":8},{"x":1414,"y":8},{"x":1420,"y":7},{"x":1430,"y":6},{"x":1440,"y":4.5},{"x":1450,"y":4},{"x":1460,"y":3},{"x":1470,"y":2},{"x":1480,"y":1.5},{"x":1490,"y":0.5},{"x":1500,"y":-0.5},{"x":1510,"y":-1.5},{"x":1520,"y":-2.5},{"x":1530,"y":-3},{"x":1540,"y":-3},{"x":1550,"y":-3.5},{"x":1560,"y":-3.5},{"x":1570,"y":-3.5},{"x":1580,"y":-3},{"x":1590,"y":-2.5},{"x":1600,"y":-2},{"x":1610,"y":-1.5},{"x":1620,"y":-1.5},{"x":1630,"y":-2},{"x":1640,"y":-2},{"x":1650,"y":-2},{"x":1660,"y":-2},{"x":1670,"y":-1.5},{"x":1680,"y":-1},{"x":1690,"y":-0.5},{"x":1700,"y":0},{"x":1710,"y":1},{"x":1720,"y":1.5},{"x":1730,"y":2},{"x":1740,"y":2.5},{"x":1750,"y":2.5},{"x":1760,"y":3},{"x":1770,"y":2.5},{"x":1780,"y":2.5},{"x":1790,"y":3},{"x":1800,"y":2.5},{"x":1810,"y":2.5},{"x":1820,"y":3},{"x":1830,"y":2.5},{"x":1840,"y":2.5},{"x":1850,"y":2.5},{"x":1860,"y":3},{"x":1870,"y":2.5},{"x":1880,"y":2.5},{"x":1890,"y":2.5},{"x":1900,"y":2},{"x":1910,"y":2},{"x":1920,"y":2.5},{"x":1930,"y":2.5},{"x":1940,"y":2.5},{"x":1950,"y":3},{"x":1960,"y":3},{"x":1970,"y":2.5},{"x":1980,"y":2.5},{"x":1990,"y":2.5},{"x":2000,"y":2.5},{"x":2010,"y":3},{"x":2020,"y":3},{"x":2030,"y":2.5},{"x":2040,"y":3},{"x":2050,"y":3},{"x":2060,"y":3.5},{"x":2070,"y":2},{"x":2080,"y":1},{"x":2090,"y":1},{"x":2100,"y":2},{"x":2110,"y":3},{"x":2120,"y":3.5},{"x":2130,"y":3.5},{"x":2140,"y":3.5},{"x":2150,"y":3},{"x":2160,"y":2.5},{"x":2170,"y":2},{"x":2180,"y":2},{"x":2190,"y":2},{"x":2200,"y":2},{"x":2210,"y":2.5},{"x":2220,"y":2},{"x":2230,"y":2},{"x":2240,"y":2.5},{"x":2250,"y":3.5},{"x":2260,"y":3},{"x":2270,"y":2},{"x":2280,"y":1.5},{"x":2290,"y":1},{"x":2300,"y":1},{"x":2310,"y":0.5},{"x":2320,"y":0},{"x":2330,"y":-1},{"x":2340,"y":-2},{"x":2350,"y":-2.5},{"x":2360,"y":-2.5},{"x":2370,"y":-2},{"x":2380,"y":-1},{"x":2390,"y":-0.5},{"x":2400,"y":0.5},{"x":2410,"y":0.5},{"x":2420,"y":0},{"x":2430,"y":-0.5},{"x":2440,"y":-0.5},{"x":2450,"y":-1},{"x":2460,"y":-1.5}],
"fNx":[{"x":2,"y":-47},{"x":4,"y":-44},{"x":6,"y":-42},{"x":8,"y":-45},{"x":10,"y":-40},{"x":12,"y":-22},{"x":14,"y":8},{"x":16,"y":10},{"x":18,"y":13},{"x":20,"y":15},{"x":22,"y":18},{"x":24,"y":17},{"x":26,"y":19},{"x":50,"y":49},{"x":55,"y":47},{"x":60,"y":45},{"x":65,"y":42},{"x":70,"y":38},{"x":75,"y":35},{"x":80,"y":33.5},{"x":90,"y":33},{"x":100,"y":32},{"x":110,"y":31},{"x":120,"y":30.5},{"x":130,"y":29.5},{"x":140,"y":28},{"x":150,"y":26.5},{"x":160,"y":25.5},{"x":170,"y":24},{"x":180,"y":22},{"x":190,"y":19},{"x":200,"y":15},{"x":210,"y":13},{"x":215,"y":11},{"x":220,"y":8},{"x":225,"y":5},{"x":230,"y":2},{"x":235,"y":0},{"x":240,"y":-3},{"x":244,"y":-5},{"x":247,"y":2},{"x":250,"y":3},{"x":260,"y":4.5},{"x":270,"y":6},{"x":280,"y":8},{"x":290,"y":9.5},{"x":300,"y":11},{"x":310,"y":13},{"x":320,"y":15},{"x":330,"y":16},{"x":340,"y":16.5},{"x":350,"y":15},{"x":360,"y":15.5},{"x":370,"y":16},{"x":380,"y":14.5},{"x":390,"y":13.5},{"x":400,"y":13},{"x":410,"y":12},{"x":420,"y":11},{"x":430,"y":9.5},{"x":440,"y":8.5},{"x":450,"y":7.5},{"x":460,"y":6.5},{"x":470,"y":6},{"x":480,"y":5},{"x":490,"y":4},{"x":500,"y":3},{"x":510,"y":2},{"x":520,"y":1},{"x":530,"y":0.5},{"x":540,"y":0.5},{"x":550,"y":0},{"x":560,"y":0},{"x":570,"y":0},{"x":580,"y":-0.5},{"x":590,"y":0},{"x":600,"y":0.5},{"x":610,"y":1},{"x":620,"y":1.5},{"x":630,"y":1.5},{"x":640,"y":1.5},{"x":650,"y":2},{"x":660,"y":2},{"x":670,"y":2},{"x":680,"y":2},{"x":690,"y":2.5},{"x":700,"y":2.5},{"x":710,"y":2},{"x":720,"y":2},{"x":730,"y":2.5},{"x":740,"y":2.5},{"x":750,"y":2.5},{"x":760,"y":2.5},{"x":770,"y":2},{"x":780,"y":2},{"x":790,"y":2.5},{"x":800,"y":2},{"x":810,"y":2},{"x":820,"y":2},{"x":830,"y":2},{"x":840,"y":2},{"x":850,"y":1.5},{"x":860,"y":1.5},{"x":870,"y":1},{"x":880,"y":1},{"x":890,"y":0.5},{"x":900,"y":0.5},{"x":910,"y":0},{"x":920,"y":0},{"x":930,"y":-0.5},{"x":940,"y":-1},{"x":950,"y":-1},{"x":960,"y":-1.5},{"x":970,"y":-2},{"x":980,"y":-2},{"x":990,"y":-1.5},{"x":1000,"y":-1.5},{"x":1010,"y":-1},{"x":1020,"y":-1},{"x":1030,"y":-1},{"x":1040,"y":-1},{"x":1050,"y":-1.5},{"x":1060,"y":-1.5},{"x":1070,"y":-1.5},{"x":1080,"y":-1.5},{"x":1090,"y":-1.5},{"x":1100,"y":-1.5},{"x":1110,"y":-2},{"x":1120,"y":-2},{"x":1130,"y":-1.5},{"x":1140,"y":-1.5},{"x":1150,"y":-2},{"x":1160,"y":-2},{"x":1170,"y":-2.5},{"x":1180,"y":-2.5},{"x":1190,"y":-3},{"x":1200,"y":-3.5},{"x":1210,"y":-3.5},{"x":1220,"y":-4},{"x":1230,"y":-4},{"x":1240,"y":-4.5},{"x":1250,"y":-5},{"x":1260,"y":-5},{"x":1270,"y":-5.5},{"x":1280,"y":-6},{"x":1287,"y":-13},{"x":1290,"y":-13.5},{"x":1300,"y":-14},{"x":1310,"y":-14},{"x":1320,"y":-13},{"x":1330,"y":-11},{"x":1335,"y":-12},{"x":1340,"y":-18},{"x":1345,"y":-21},{"x":1350,"y":-23},{"x":1360,"y":-25},{"x":1370,"y":-27},{"x":1379,"y":-29},{"x":1381,"y":-32},{"x":1390,"y":-27},{"x":1400,"y":-23},{"x":1410,"y":-20.5},{"x":1420,"y":-21},{"x":1430,"y":-23},{"x":1440,"y":-23},{"x":1450,"y":-23},{"x":1460,"y":-23},{"x":1470,"y":-22.5},{"x":1480,"y":-22},{"x":1490,"y":-21},{"x":1500,"y":-20},{"x":1510,"y":-19},{"x":1520,"y":-18},{"x":1530,"y":-16.5},{"x":1540,"y":-14},{"x":1550,"y":-11},{"x":1560,"y":-9},{"x":1570,"y":-6.5},{"x":1580,"y":-4.5},{"x":1590,"y":-3},{"x":1600,"y":-1.5},{"x":1610,"y":-0.5},{"x":1620,"y":0},{"x":1630,"y":0.5},{"x":1640,"y":0.5},{"x":1650,"y":1},{"x":1660,"y":1.5},{"x":1670,"y":2},{"x":1680,"y":3},{"x":1690,"y":4.5},{"x":1700,"y":6},{"x":1710,"y":7.5},{"x":1720,"y":9},{"x":1730,"y":10},{"x":1740,"y":11.5},{"x":1750,"y":12.5},{"x":1760,"y":13},{"x":1770,"y":13.5},{"x":1780,"y":14},{"x":1790,"y":14.5},{"x":1800,"y":14.5},{"x":1810,"y":15},{"x":1820,"y":15},{"x":1830,"y":15.5},{"x":1840,"y":15.5},{"x":1850,"y":15.5},{"x":1860,"y":16},{"x":1870,"y":16},{"x":1880,"y":16.5},{"x":1890,"y":16.5},{"x":1900,"y":16.5},{"x":1910,"y":17},{"x":1920,"y":17},{"x":1930,"y":17},{"x":1940,"y":17},{"x":1950,"y":17},{"x":1960,"y":17},{"x":1970,"y":17.5},{"x":1980,"y":17.5},{"x":1990,"y":17.5},{"x":2000,"y":18},{"x":2010,"y":18},{"x":2020,"y":18.5},{"x":2030,"y":18.5},{"x":2040,"y":19},{"x":2050,"y":19},{"x":2060,"y":19.5},{"x":2070,"y":19},{"x":2080,"y":18.5},{"x":2090,"y":18.5},{"x":2100,"y":18.5},{"x":2110,"y":18.5},{"x":2120,"y":18.5},{"x":2130,"y":18},{"x":2140,"y":18},{"x":2150,"y":17.5},{"x":2160,"y":17},{"x":2170,"y":16.5},{"x":2180,"y":16},{"x":2190,"y":15},{"x":2200,"y":14.5},{"x":2210,"y":14},{"x":2220,"y":13.5},{"x":2230,"y":13},{"x":2240,"y":12.5},{"x":2250,"y":12},{"x":2260,"y":11.5},{"x":2270,"y":11},{"x":2280,"y":10},{"x":2290,"y":9},{"x":2300,"y":8},{"x":2310,"y":7},{"x":2320,"y":6.5},{"x":2330,"y":5.5},{"x":2340,"y":5},{"x":2350,"y":3.5},{"x":2360,"y":2.5},{"x":2370,"y":2.5},{"x":2380,"y":3.5},{"x":2390,"y":4},{"x":2400,"y":4},{"x":2410,"y":4},{"x":2420,"y":3.5},{"x":2430,"y":3.5},{"x":2440,"y":3},{"x":2450,"y":3},{"x":2460,"y":2.5}],
"fUf":[{"x":2,"y":5},{"x":4,"y":11},{"x":8,"y":18},{"x":12,"y":24},{"x":16,"y":25},{"x":20,"y":27},{"x":26,"y":24.5},{"x":30,"y":25},{"x":35,"y":26},{"x":40,"y":26.5},{"x":45,"y":27},{"x":50,"y":28},{"x":55,"y":30},{"x":60,"y":31},{"x":65,"y":30},{"x":70,"y":27},{"x":75,"y":20},{"x":80,"y":12},{"x":85,"y":8},{"x":90,"y":3},{"x":95,"y":0},{"x":100,"y":-4},{"x":105,"y":-8},{"x":110,"y":-10},{"x":115,"y":-12},{"x":120,"y":-13.5},{"x":130,"y":-15},{"x":140,"y":-16.5},{"x":150,"y":-17.5},{"x":160,"y":-18},{"x":170,"y":-19},{"x":180,"y":-18},{"x":190,"y":-15},{"x":200,"y":-11},{"x":210,"y":-7.5},{"x":220,"y":-5.5},{"x":230,"y":-5},{"x":240,"y":1},{"x":243,"y":4},{"x":246,"y":2},{"x":250,"y":-2},{"x":255,"y":-6},{"x":260,"y":-8.5},{"x":270,"y":-10},{"x":280,"y":-10.5},{"x":290,"y":-13},{"x":300,"y":-17},{"x":310,"y":-21},{"x":320,"y":-22.5},{"x":330,"y":-24},{"x":340,"y":-25},{"x":350,"y":-25.5},{"x":360,"y":-26},{"x":370,"y":-27},{"x":380,"y":-27},{"x":390,"y":-28.5},{"x":400,"y":-30},{"x":405,"y":-22},{"x":410,"y":-29},{"x":420,"y":-30},{"x":430,"y":-31},{"x":440,"y":-32},{"x":450,"y":-33},{"x":460,"y":-30},{"x":470,"y":-28},{"x":480,"y":-27},{"x":490,"y":-26},{"x":500,"y":-25},{"x":510,"y":-24.5},{"x":520,"y":-25},{"x":530,"y":-26},{"x":540,"y":-26.5},{"x":550,"y":-26},{"x":560,"y":-27},{"x":570,"y":-27},{"x":580,"y":-25},{"x":584,"y":-20},{"x":586,"y":-36},{"x":590,"y":-22},{"x":600,"y":-4},{"x":603,"y":-10},{"x":607,"y":-27},{"x":610,"y":-38},{"x":613,"y":-30},{"x":617,"y":-24},{"x":620,"y":-22},{"x":630,"y":-20},{"x":640,"y":-18},{"x":650,"y":-16},{"x":660,"y":-14},{"x":670,"y":-13},{"x":680,"y":-11},{"x":690,"y":-10},{"x":700,"y":-8.5},{"x":710,"y":-7},{"x":720,"y":-5.5},{"x":730,"y":-5},{"x":740,"y":-4.5},{"x":750,"y":-4},{"x":760,"y":-4},{"x":770,"y":-4},{"x":780,"y":-3.5},{"x":790,"y":-3},{"x":800,"y":-3},{"x":810,"y":-2.5},{"x":820,"y":-2},{"x":830,"y":-1},{"x":840,"y":0},{"x":850,"y":-0.5},{"x":860,"y":-1},{"x":870,"y":-1.5},{"x":880,"y":-2},{"x":890,"y":-2.5},{"x":900,"y":-2.5},{"x":910,"y":-2},{"x":920,"y":-1.5},{"x":930,"y":-1},{"x":940,"y":-1.5},{"x":950,"y":-3},{"x":960,"y":-4},{"x":970,"y":-4},{"x":980,"y":-4},{"x":990,"y":-3.5},{"x":1000,"y":-3.5},{"x":1010,"y":-3},{"x":1011,"y":-41},{"x":1020,"y":-1},{"x":1030,"y":2},{"x":1040,"y":4},{"x":1050,"y":4},{"x":1060,"y":3},{"x":1070,"y":2.5},{"x":1080,"y":2},{"x":1090,"y":1.5},{"x":1100,"y":1},{"x":1110,"y":0},{"x":1120,"y":-2},{"x":1130,"y":-3},{"x":1140,"y":-4},{"x":1150,"y":-5.5},{"x":1160,"y":-6},{"x":1170,"y":-8},{"x":1180,"y":-9.5},{"x":1190,"y":-9},{"x":1200,"y":-8},{"x":1210,"y":-7.5},{"x":1220,"y":-8},{"x":1230,"y":-9},{"x":1240,"y":-10},{"x":1250,"y":-10.5},{"x":1260,"y":-11},{"x":1270,"y":-12},{"x":1275,"y":-13},{"x":1283,"y":4},{"x":1290,"y":2},{"x":1300,"y":-1},{"x":1310,"y":-3},{"x":1320,"y":-9},{"x":1330,"y":-12},{"x":1340,"y":-11},{"x":1350,"y":-9},{"x":1360,"y":-8},{"x":1370,"y":-9.5},{"x":1380,"y":-12},{"x":1390,"y":-15},{"x":1400,"y":-17},{"x":1410,"y":-20},{"x":1414,"y":-24},{"x":1420,"y":-22},{"x":1430,"y":-22},{"x":1440,"y":-21.5},{"x":1450,"y":-22},{"x":1460,"y":-21.5},{"x":1470,"y":-21},{"x":1480,"y":-21},{"x":1490,"y":-20},{"x":1500,"y":-18.5},{"x":1510,"y":-17},{"x":1514,"y":-15},{"x":1520,"y":-19},{"x":1530,"y":-20},{"x":1540,"y":-20.5},{"x":1550,"y":-21.5},{"x":1560,"y":-22},{"x":1570,"y":-22},{"x":1580,"y":-21.5},{"x":1590,"y":-21},{"x":1600,"y":-21},{"x":1610,"y":-20.5},{"x":1620,"y":-20.5},{"x":1630,"y":-20},{"x":1640,"y":-20},{"x":1650,"y":-19.5},{"x":1660,"y":-19},{"x":1670,"y":-18.5},{"x":1680,"y":-18},{"x":1690,"y":-17},{"x":1700,"y":-15},{"x":1710,"y":-13},{"x":1720,"y":-10},{"x":1730,"y":-6},{"x":1740,"y":0},{"x":1745,"y":4},{"x":1750,"y":4},{"x":1760,"y":3.5},{"x":1770,"y":3},{"x":1780,"y":3},{"x":1790,"y":3},{"x":1800,"y":3},{"x":1810,"y":3.5},{"x":1820,"y":3.5},{"x":1830,"y":3},{"x":1840,"y":3},{"x":1850,"y":2},{"x":1860,"y":1},{"x":1870,"y":0},{"x":1880,"y":-0.5},{"x":1890,"y":-1},{"x":1900,"y":-1},{"x":1910,"y":-1},{"x":1920,"y":-1.5},{"x":1930,"y":-2},{"x":1940,"y":-2.5},{"x":1950,"y":-2},{"x":1960,"y":-1},{"x":1970,"y":-1},{"x":1980,"y":-1},{"x":1990,"y":-1.5},{"x":2000,"y":-1.5},{"x":2010,"y":-1},{"x":2020,"y":-1},{"x":2030,"y":-1},{"x":2040,"y":-1},{"x":2050,"y":-0.5},{"x":2060,"y":0},{"x":2070,"y":-0.5},{"x":2080,"y":-0.5},{"x":2090,"y":0},{"x":2100,"y":0},{"x":2110,"y":1.5},{"x":2120,"y":2.5},{"x":2130,"y":1.5},{"x":2140,"y":1},{"x":2150,"y":0},{"x":2160,"y":-0.5},{"x":2170,"y":-1},{"x":2180,"y":-1.5},{"x":2190,"y":-1.5},{"x":2200,"y":-1},{"x":2210,"y":-1},{"x":2220,"y":-1.5},{"x":2230,"y":-2},{"x":2240,"y":-2},{"x":2250,"y":-1.5},{"x":2260,"y":-1.5},{"x":2270,"y":-1},{"x":2280,"y":-1},{"x":2290,"y":-0.5},{"x":2300,"y":-0.5},{"x":2310,"y":0},{"x":2320,"y":0},{"x":2330,"y":0},{"x":2340,"y":0},{"x":2350,"y":0},{"x":2360,"y":0},{"x":2370,"y":0.5},{"x":2380,"y":1},{"x":2390,"y":1.5},{"x":2400,"y":2.5},{"x":2410,"y":3},{"x":2420,"y":3},{"x":2430,"y":3},{"x":2440,"y":3.5},{"x":2450,"y":3.5},{"x":2460,"y":4}],
"fUx":[{"x":2,"y":-93},{"x":6,"y":-70},{"x":8,"y":-57},{"x":12,"y":-15},{"x":14,"y":-25},{"x":17,"y":-3},{"x":20,"y":-18},{"x":22,"y":-20},{"x":26,"y":2},{"x":30,"y":4},{"x":34,"y":5.5},{"x":40,"y":3},{"x":45,"y":1},{"x":50,"y":-2},{"x":55,"y":-5},{"x":60,"y":-8},{"x":65,"y":-11},{"x":70,"y":-14},{"x":75,"y":-17},{"x":80,"y":-21},{"x":85,"y":-24},{"x":90,"y":-27},{"x":95,"y":-30},{"x":100,"y":-32.5},{"x":110,"y":-35},{"x":120,"y":-36},{"x":130,"y":-37},{"x":140,"y":-36.5},{"x":150,"y":-36},{"x":160,"y":-34},{"x":170,"y":-31},{"x":180,"y":-27},{"x":190,"y":-22},{"x":200,"y":-16},{"x":210,"y":-12},{"x":220,"y":-8},{"x":230,"y":-5.5},{"x":235,"y":-3},{"x":240,"y":5},{"x":243,"y":13},{"x":245,"y":17},{"x":248,"y":9},{"x":252,"y":2},{"x":256,"y":-2},{"x":260,"y":-5},{"x":270,"y":-7},{"x":280,"y":-8},{"x":290,"y":-10},{"x":300,"y":-13},{"x":310,"y":-18},{"x":320,"y":-22},{"x":330,"y":-24},{"x":340,"y":-24.5},{"x":350,"y":-25},{"x":360,"y":-26},{"x":370,"y":-27},{"x":380,"y":-28},{"x":390,"y":-29},{"x":400,"y":-30},{"x":410,"y":-30.5},{"x":420,"y":-31},{"x":430,"y":-33},{"x":440,"y":-35},{"x":450,"y":-37},{"x":460,"y":-38},{"x":470,"y":-39.5},{"x":480,"y":-41},{"x":485,"y":-50},{"x":490,"y":-44},{"x":500,"y":-45.5},{"x":510,"y":-47},{"x":520,"y":-48.5},{"x":530,"y":-50.5},{"x":540,"y":-52.5},{"x":550,"y":-55},{"x":560,"y":-57.5},{"x":570,"y":-59},{"x":580,"y":-60},{"x":590,"y":-61.5},{"x":593,"y":-73},{"x":596,"y":-58},{"x":600,"y":-62},{"x":605,"y":-52},{"x":610,"y":-64},{"x":614,"y":-66},{"x":618,"y":-48},{"x":620,"y":-45},{"x":630,"y":-43},{"x":640,"y":-41},{"x":650,"y":-38},{"x":660,"y":-36},{"x":670,"y":-34},{"x":680,"y":-32},{"x":690,"y":-30},{"x":700,"y":-28},{"x":710,"y":-27},{"x":720,"y":-26},{"x":730,"y":-25},{"x":740,"y":-23},{"x":750,"y":-22},{"x":760,"y":-21},{"x":770,"y":-20},{"x":780,"y":-19},{"x":790,"y":-18},{"x":800,"y":-17},{"x":810,"y":-16},{"x":820,"y":-15},{"x":830,"y":-14},{"x":840,"y":-13},{"x":850,"y":-12},{"x":860,"y":-11.5},{"x":870,"y":-11},{"x":880,"y":-11.5},{"x":890,"y":-12},{"x":900,"y":-12.5},{"x":910,"y":-13},{"x":920,"y":-13.5},{"x":930,"y":-14},{"x":940,"y":-13.5},{"x":950,"y":-13},{"x":960,"y":-12},{"x":970,"y":-11.5},{"x":980,"y":-11},{"x":990,"y":-10.5},{"x":1000,"y":-10},{"x":1010,"y":-9.5},{"x":1011,"y":-24},{"x":1012,"y":-48},{"x":1020,"y":-6},{"x":1030,"y":-3},{"x":1040,"y":1},{"x":1045,"y":3},{"x":1050,"y":3.5},{"x":1060,"y":4},{"x":1070,"y":4},{"x":1080,"y":4},{"x":1090,"y":4.5},{"x":1100,"y":4},{"x":1110,"y":3.5},{"x":1120,"y":3},{"x":1130,"y":2.5},{"x":1140,"y":8},{"x":1150,"y":11},{"x":1160,"y":12},{"x":1170,"y":13},{"x":1180,"y":13.5},{"x":1190,"y":13.5},{"x":1200,"y":13},{"x":1210,"y":13.5},{"x":1220,"y":14},{"x":1230,"y":14.5},{"x":1240,"y":15},{"x":1250,"y":15.5},{"x":1260,"y":16.5},{"x":1270,"y":18},{"x":1278,"y":21},{"x":1283,"y":30},{"x":1285,"y":10},{"x":1287,"y":5},{"x":1290,"y":-15},{"x":1293,"y":-25},{"x":1296,"y":-30},{"x":1300,"y":-38},{"x":1305,"y":-44},{"x":1310,"y":-47},{"x":1320,"y":-52},{"x":1330,"y":-57},{"x":1340,"y":-60},{"x":1350,"y":-62},{"x":1360,"y":-63},{"x":1370,"y":-64},{"x":1380,"y":-65.5},{"x":1390,"y":-67},{"x":1400,"y":-69},{"x":1410,"y":-71},{"x":1420,"y":-73},{"x":1430,"y":-75},{"x":1440,"y":-76},{"x":1450,"y":-77},{"x":1460,"y":-78.5},{"x":1470,"y":-79.5},{"x":1480,"y":-80.5},{"x":1490,"y":-81.5},{"x":1500,"y":-82},{"x":1510,"y":-81},{"x":1520,"y":-79},{"x":1530,"y":-80},{"x":1540,"y":-82},{"x":1550,"y":-80},{"x":1560,"y":-77},{"x":1570,"y":-73},{"x":1580,"y":-68},{"x":1590,"y":-62},{"x":1600,"y":-55},{"x":1605,"y":-50},{"x":1610,"y":-49},{"x":1620,"y":-48},{"x":1630,"y":-47},{"x":1640,"y":-46},{"x":1650,"y":-44},{"x":1660,"y":-42},{"x":1670,"y":-40},{"x":1680,"y":-37},{"x":1690,"y":-32},{"x":1700,"y":-26},{"x":1710,"y":-20},{"x":1720,"y":-14},{"x":1730,"y":-8},{"x":1740,"y":5},{"x":1745,"y":10},{"x":1750,"y":11},{"x":1760,"y":11},{"x":1770,"y":11},{"x":1780,"y":11.5},{"x":1790,"y":11},{"x":1800,"y":11},{"x":1810,"y":10.5},{"x":1820,"y":10},{"x":1830,"y":9.5},{"x":1840,"y":7},{"x":1850,"y":5},{"x":1860,"y":4},{"x":1870,"y":3},{"x":1880,"y":2},{"x":1890,"y":1},{"x":1900,"y":0},{"x":1910,"y":-0.5},{"x":1920,"y":-1},{"x":1930,"y":-2},{"x":1940,"y":-4},{"x":1945,"y":-11},{"x":1950,"y":-7},{"x":1960,"y":-6},{"x":1970,"y":-5.5},{"x":1980,"y":-5},{"x":1990,"y":-5},{"x":2000,"y":-5.5},{"x":2010,"y":-5},{"x":2020,"y":-4.5},{"x":2030,"y":-4},{"x":2040,"y":-4},{"x":2050,"y":-4},{"x":2060,"y":-5},{"x":2070,"y":-5.5},{"x":2080,"y":-6},{"x":2090,"y":-7},{"x":2100,"y":-6.5},{"x":2110,"y":-6},{"x":2120,"y":-6},{"x":2130,"y":-6.5},{"x":2140,"y":-7},{"x":2150,"y":-7.5},{"x":2160,"y":-8},{"x":2170,"y":-8},{"x":2180,"y":-8},{"x":2190,"y":-7.5},{"x":2200,"y":-7},{"x":2210,"y":-7.5},{"x":2220,"y":-8},{"x":2230,"y":-8},{"x":2240,"y":-7.5},{"x":2250,"y":-7},{"x":2260,"y":-6},{"x":2270,"y":-5},{"x":2280,"y":-4},{"x":2290,"y":-3},{"x":2300,"y":-2},{"x":2310,"y":-1},{"x":2320,"y":0},{"x":2330,"y":1},{"x":2340,"y":2.5},{"x":2350,"y":4},{"x":2360,"y":5},{"x":2370,"y":5.5},{"x":2380,"y":6.5},{"x":2390,"y":7},{"x":2400,"y":7.5},{"x":2410,"y":8},{"x":2420,"y":8.5},{"x":2430,"y":8.5},{"x":2440,"y":9},{"x":2450,"y":9},{"x":2460,"y":10}]
},
"layer":[
{"layer":[
{"mark":{"type":"rule","color":"#00ffff","strokeWidth":3.5},"encoding":{
"x":{"datum":0,"type":"quantitative","scale":{"domain":[0,2520],"range":[110.5,1496],"nice":false,"zero":false},"axis":{"orient":"bottom","offset":-945,"values":[600,1200,1800,2400],"tickSize":-14,"labels":false,"title":null,"zindex":0}},
"x2":{"datum":2520},
"y":{"datum":0,"type":"quantitative","scale":{"domain":[-50,50],"range":[254,8.5],"nice":false,"zero":false},"axis":{"orient":"left","offset":-110.5,"values":[-40,-20,0,20,40],"tickSize":-14,"labelPadding":21,"title":"East (cm)","titleX":-83.7,"titleBaseline":"middle","zindex":0}}}},
{"mark":{"type":"rule","color":"#00ffff","strokeWidth":3.5},"encoding":{
"x":{"datum":0,"type":"quantitative","scale":{"domain":[0,2520],"range":[110.5,1496],"nice":false,"zero":false},"axis":{"orient":"top","offset":-8.5,"values":[600,1200,1800,2400],"tickSize":-14,"labels":false,"title":null,"zindex":0}},
"x2":{"datum":2520},
"y":{"datum":0,"type":"quantitative","scale":{"domain":[-50,50],"range":[254,8.5],"nice":false,"zero":false},"axis":{"orient":"right","offset":-411,"values":[-40,-20,0,20,40],"tickSize":-14,"labels":false,"title":null,"zindex":0}}}},
{"data":{"name":"bEf"},"mark":{"type":"circle","size":36,"color":"black","opacity":1},"encoding":{
"x":{"field":"x","type":"quantitative","scale":{"domain":[0,2520],"range":[110.5,1496],"nice":false,"zero":false},"axis":{"orient":"bottom","offset":-945,"values":[60,120,180,240,300,360,420,480,540,600,660,720,780,840,900,960,1020,1080,1140,1200,1260,1320,1380,1440,1500,1560,1620,1680,1740,1800,1860,1920,1980,2040,2100,2160,2220,2280,2340,2400,2460],"tickSize":-7,"labels":false,"domain":false,"title":null,"zindex":0}},
"y":{"field":"y","type":"quantitative","scale":{"domain":[-50,50],"range":[254,8.5],"nice":false,"zero":false},"axis":{"orient":"left","offset":-110.5,"values":[-45,-40,-35,-30,-25,-20,-15,-10,-5,0,5,10,15,20,25,30,35,40,45],"tickSize":-7,"labels":false,"domain":false,"title":null,"zindex":0}}}},
{"data":{"name":"bEx"},"mark":{"type":"circle","size":36,"color":"red","opacity":1},"encoding":{
"x":{"field":"x","type":"quantitative","scale":{"domain":[0,2520],"range":[110.5,1496],"nice":false,"zero":false},"axis":{"orient":"top","offset":-8.5,"values":[60,120,180,240,300,360,420,480,540,600,660,720,780,840,900,960,1020,1080,1140,1200,1260,1320,1380,1440,1500,1560,1620,1680,1740,1800,1860,1920,1980,2040,2100,2160,2220,2280,2340,2400,2460],"tickSize":-7,"labels":false,"domain":false,"title":null,"zindex":0}},
"y":{"field":"y","type":"quantitative","scale":{"domain":[-50,50],"range":[254,8.5],"nice":false,"zero":false},"axis":{"orient":"right","offset":-411,"values":[-45,-40,-35,-30,-25,-20,-15,-10,-5,0,5,10,15,20,25,30,35,40,45],"tickSize":-7,"labels":false,"domain":false,"title":null,"zindex":0}}}},
{"mark":{"type":"circle","size":80,"color":"black","opacity":1},"encoding":{"x":{"datum":206,"type":"quantitative","axis":null},"y":{"datum":34.2,"type":"quantitative","axis":null}}},
{"mark":{"type":"circle","size":80,"color":"red","opacity":1},"encoding":{"x":{"datum":206,"type":"quantitative","axis":null},"y":{"datum":21.3,"type":"quantitative","axis":null}}},
{"mark":{"type":"text","text":"Float solution","fontSize":29,"align":"left","baseline":"middle"},"encoding":{"x":{"datum":243.5,"type":"quantitative","axis":null},"y":{"datum":34.2,"type":"quantitative","axis":null}}},
{"mark":{"type":"text","text":"Fixed solution","fontSize":29,"align":"left","baseline":"middle"},"encoding":{"x":{"datum":243.5,"type":"quantitative","axis":null},"y":{"datum":21.3,"type":"quantitative","axis":null}}},
{"mark":{"type":"text","text":"RMS","fontSize":29,"align":"left","baseline":"middle"},"encoding":{"x":{"datum":1696,"type":"quantitative","axis":null},"y":{"datum":39.2,"type":"quantitative","axis":null}}},
{"mark":{"type":"text","text":"float","fontSize":19,"align":"left","baseline":"alphabetic","dx":65,"dy":16},"encoding":{"x":{"datum":1696,"type":"quantitative","axis":null},"y":{"datum":39.2,"type":"quantitative","axis":null}}},
{"mark":{"type":"text","text":"=0.114m","fontSize":29,"align":"left","baseline":"middle","dx":101},"encoding":{"x":{"datum":1696,"type":"quantitative","axis":null},"y":{"datum":39.2,"type":"quantitative","axis":null}}},
{"mark":{"type":"text","text":"RMS","fontSize":29,"align":"left","baseline":"middle"},"encoding":{"x":{"datum":1696,"type":"quantitative","axis":null},"y":{"datum":24.3,"type":"quantitative","axis":null}}},
{"mark":{"type":"text","text":"fixed","fontSize":19,"align":"left","baseline":"alphabetic","dx":65,"dy":16},"encoding":{"x":{"datum":1696,"type":"quantitative","axis":null},"y":{"datum":24.3,"type":"quantitative","axis":null}}},
{"mark":{"type":"text","text":"=0.353m","fontSize":29,"align":"left","baseline":"middle","dx":105.5},"encoding":{"x":{"datum":1696,"type":"quantitative","axis":null},"y":{"datum":24.3,"type":"quantitative","axis":null}}}
],"resolve":{"axis":{"x":"independent","y":"independent"}}},
{"layer":[
{"mark":{"type":"rule","color":"#00ffff","strokeWidth":3.5},"encoding":{
"x":{"datum":0,"type":"quantitative","scale":{"domain":[0,2520],"range":[110.5,1496],"nice":false,"zero":false},"axis":{"orient":"bottom","offset":-676,"values":[600,1200,1800,2400],"tickSize":-14,"labels":false,"title":null,"zindex":0}},
"x2":{"datum":2520},
"y":{"datum":0,"type":"quantitative","scale":{"domain":[-50,50],"range":[523,278],"nice":false,"zero":false},"axis":{"orient":"left","offset":-110.5,"values":[-40,-20,0,20,40],"tickSize":-14,"labelPadding":21,"title":"North (cm)","titleX":-83.7,"titleBaseline":"middle","zindex":0}}}},
{"mark":{"type":"rule","color":"#00ffff","strokeWidth":3.5},"encoding":{
"x":{"datum":0,"type":"quantitative","scale":{"domain":[0,2520],"range":[110.5,1496],"nice":false,"zero":false},"axis":{"orient":"top","offset":-278,"values":[600,1200,1800,2400],"tickSize":-14,"labels":false,"title":null,"zindex":0}},
"x2":{"datum":2520},
"y":{"datum":0,"type":"quantitative","scale":{"domain":[-50,50],"range":[523,278],"nice":false,"zero":false},"axis":{"orient":"right","offset":-411,"values":[-40,-20,0,20,40],"tickSize":-14,"labels":false,"title":null,"zindex":0}}}},
{"data":{"name":"bNf"},"mark":{"type":"circle","size":36,"color":"black","opacity":1},"encoding":{
"x":{"field":"x","type":"quantitative","scale":{"domain":[0,2520],"range":[110.5,1496],"nice":false,"zero":false},"axis":{"orient":"bottom","offset":-676,"values":[60,120,180,240,300,360,420,480,540,600,660,720,780,840,900,960,1020,1080,1140,1200,1260,1320,1380,1440,1500,1560,1620,1680,1740,1800,1860,1920,1980,2040,2100,2160,2220,2280,2340,2400,2460],"tickSize":-7,"labels":false,"domain":false,"title":null,"zindex":0}},
"y":{"field":"y","type":"quantitative","scale":{"domain":[-50,50],"range":[523,278],"nice":false,"zero":false},"axis":{"orient":"left","offset":-110.5,"values":[-45,-40,-35,-30,-25,-20,-15,-10,-5,0,5,10,15,20,25,30,35,40,45],"tickSize":-7,"labels":false,"domain":false,"title":null,"zindex":0}}}},
{"data":{"name":"bNx"},"mark":{"type":"circle","size":36,"color":"red","opacity":1},"encoding":{
"x":{"field":"x","type":"quantitative","scale":{"domain":[0,2520],"range":[110.5,1496],"nice":false,"zero":false},"axis":{"orient":"top","offset":-278,"values":[60,120,180,240,300,360,420,480,540,600,660,720,780,840,900,960,1020,1080,1140,1200,1260,1320,1380,1440,1500,1560,1620,1680,1740,1800,1860,1920,1980,2040,2100,2160,2220,2280,2340,2400,2460],"tickSize":-7,"labels":false,"domain":false,"title":null,"zindex":0}},
"y":{"field":"y","type":"quantitative","scale":{"domain":[-50,50],"range":[523,278],"nice":false,"zero":false},"axis":{"orient":"right","offset":-411,"values":[-45,-40,-35,-30,-25,-20,-15,-10,-5,0,5,10,15,20,25,30,35,40,45],"tickSize":-7,"labels":false,"domain":false,"title":null,"zindex":0}}}},
{"mark":{"type":"text","text":"RMS","fontSize":29,"align":"left","baseline":"middle"},"encoding":{"x":{"datum":1696,"type":"quantitative","axis":null},"y":{"datum":39.6,"type":"quantitative","axis":null}}},
{"mark":{"type":"text","text":"float","fontSize":19,"align":"left","baseline":"alphabetic","dx":65,"dy":16},"encoding":{"x":{"datum":1696,"type":"quantitative","axis":null},"y":{"datum":39.6,"type":"quantitative","axis":null}}},
{"mark":{"type":"text","text":"=0.054m","fontSize":29,"align":"left","baseline":"middle","dx":101},"encoding":{"x":{"datum":1696,"type":"quantitative","axis":null},"y":{"datum":39.6,"type":"quantitative","axis":null}}},
{"mark":{"type":"text","text":"RMS","fontSize":29,"align":"left","baseline":"middle"},"encoding":{"x":{"datum":1696,"type":"quantitative","axis":null},"y":{"datum":24.7,"type":"quantitative","axis":null}}},
{"mark":{"type":"text","text":"fixed","fontSize":19,"align":"left","baseline":"alphabetic","dx":65,"dy":16},"encoding":{"x":{"datum":1696,"type":"quantitative","axis":null},"y":{"datum":24.7,"type":"quantitative","axis":null}}},
{"mark":{"type":"text","text":"=0.108m","fontSize":29,"align":"left","baseline":"middle","dx":105.5},"encoding":{"x":{"datum":1696,"type":"quantitative","axis":null},"y":{"datum":24.7,"type":"quantitative","axis":null}}}
],"resolve":{"axis":{"x":"independent","y":"independent"}}},
{"layer":[
{"mark":{"type":"rule","color":"#00ffff","strokeWidth":3.5},"encoding":{
"x":{"datum":0,"type":"quantitative","scale":{"domain":[0,2520],"range":[110.5,1496],"nice":false,"zero":false},"axis":{"orient":"bottom","offset":-407,"values":[0,240,480],"format":"d","tickSize":-14,"labelPadding":21,"title":null,"zindex":0}},
"x2":{"datum":2520},
"y":{"datum":0,"type":"quantitative","scale":{"domain":[-100,100],"range":[792,547],"nice":false,"zero":false},"axis":{"orient":"left","offset":-110.5,"values":[-80,-40,0,40,80],"tickSize":-14,"labelPadding":21,"title":"Up (cm)","titleX":-83.7,"titleBaseline":"middle","zindex":0}}}},
{"mark":{"type":"rule","color":"#00ffff","strokeWidth":3.5},"encoding":{
"x":{"datum":0,"type":"quantitative","scale":{"domain":[0,2520],"range":[110.5,1496],"nice":false,"zero":false},"axis":{"orient":"top","offset":-547,"values":[0,240,480,720,960,1200,1440,1680,1920,2160,2400],"tickSize":-14,"labels":false,"title":null,"zindex":0}},
"x2":{"datum":2520},
"y":{"datum":0,"type":"quantitative","scale":{"domain":[-100,100],"range":[792,547],"nice":false,"zero":false},"axis":{"orient":"right","offset":-411,"values":[-80,-40,0,40,80],"tickSize":-14,"labels":false,"title":null,"zindex":0}}}},
{"data":{"name":"bUf"},"mark":{"type":"circle","size":36,"color":"black","opacity":1},"encoding":{
"x":{"field":"x","type":"quantitative","scale":{"domain":[0,2520],"range":[110.5,1496],"nice":false,"zero":false},"axis":{"orient":"bottom","offset":-407,"values":[60,120,180,240,300,360,420,480,540,600,660,720,780,840,900,960,1020,1080,1140,1200,1260,1320,1380,1440,1500,1560,1620,1680,1740,1800,1860,1920,1980,2040,2100,2160,2220,2280,2340,2400,2460],"tickSize":-7,"labels":false,"domain":false,"title":null,"zindex":0}},
"y":{"field":"y","type":"quantitative","scale":{"domain":[-100,100],"range":[792,547],"nice":false,"zero":false},"axis":{"orient":"left","offset":-110.5,"values":[-90,-80,-70,-60,-50,-40,-30,-20,-10,0,10,20,30,40,50,60,70,80,90],"tickSize":-7,"labels":false,"domain":false,"title":null,"zindex":0}}}},
{"data":{"name":"bUx"},"mark":{"type":"circle","size":36,"color":"red","opacity":1},"encoding":{
"x":{"field":"x","type":"quantitative","scale":{"domain":[0,2520],"range":[110.5,1496],"nice":false,"zero":false},"axis":{"orient":"top","offset":-547,"values":[60,120,180,240,300,360,420,480,540,600,660,720,780,840,900,960,1020,1080,1140,1200,1260,1320,1380,1440,1500,1560,1620,1680,1740,1800,1860,1920,1980,2040,2100,2160,2220,2280,2340,2400,2460],"tickSize":-7,"labels":false,"domain":false,"title":null,"zindex":0}},
"y":{"field":"y","type":"quantitative","scale":{"domain":[-100,100],"range":[792,547],"nice":false,"zero":false},"axis":{"orient":"right","offset":-411,"values":[-90,-80,-70,-60,-50,-40,-30,-20,-10,0,10,20,30,40,50,60,70,80,90],"tickSize":-7,"labels":false,"domain":false,"title":null,"zindex":0}}}}
],"resolve":{"axis":{"x":"independent","y":"independent"}}},
{"layer":[
{"mark":{"type":"rect","color":"white"},"encoding":{"x":{"datum":-176,"type":"quantitative","scale":{"domain":[0,2500],"range":[520.5,1905],"nice":false,"zero":false},"axis":null},"x2":{"datum":2600},"y":{"datum":50,"type":"quantitative","scale":{"domain":[-50,50],"range":[589,344],"nice":false,"zero":false},"axis":null},"y2":{"datum":-300}}},
{"mark":{"type":"rule","color":"#00ffff","strokeWidth":3.5},"encoding":{
"x":{"datum":0,"type":"quantitative","scale":{"domain":[0,2500],"range":[520.5,1905],"nice":false,"zero":false},"axis":{"orient":"bottom","offset":-610,"values":[600,1200,1800,2400],"tickSize":-14,"labels":false,"title":null,"zindex":1}},
"x2":{"datum":2500},
"y":{"datum":0,"type":"quantitative","scale":{"domain":[-50,50],"range":[589,344],"nice":false,"zero":false},"axis":{"orient":"left","offset":-520.5,"values":[-40,-20,0,20,40],"tickSize":-14,"labelPadding":21,"title":"East (cm)","titleX":-82.7,"titleBaseline":"middle","zindex":1}}}},
{"mark":{"type":"rule","color":"#00ffff","strokeWidth":3.5},"encoding":{
"x":{"datum":0,"type":"quantitative","scale":{"domain":[0,2500],"range":[520.5,1905],"nice":false,"zero":false},"axis":{"orient":"top","offset":-344,"values":[600,1200,1800,2400],"tickSize":-14,"labels":false,"title":null,"zindex":1}},
"x2":{"datum":2500},
"y":{"datum":0,"type":"quantitative","scale":{"domain":[-50,50],"range":[589,344],"nice":false,"zero":false},"axis":{"orient":"right","offset":-2,"values":[-40,-20,0,20,40],"tickSize":-14,"labels":false,"title":null,"zindex":1}}}},
{"data":{"name":"fEf"},"mark":{"type":"circle","size":36,"color":"black","opacity":1},"encoding":{
"x":{"field":"x","type":"quantitative","scale":{"domain":[0,2500],"range":[520.5,1905],"nice":false,"zero":false},"axis":{"orient":"bottom","offset":-610,"values":[60,120,180,240,300,360,420,480,540,600,660,720,780,840,900,960,1020,1080,1140,1200,1260,1320,1380,1440,1500,1560,1620,1680,1740,1800,1860,1920,1980,2040,2100,2160,2220,2280,2340,2400,2460],"tickSize":-7,"labels":false,"domain":false,"title":null,"zindex":1}},
"y":{"field":"y","type":"quantitative","scale":{"domain":[-50,50],"range":[589,344],"nice":false,"zero":false},"axis":{"orient":"left","offset":-520.5,"values":[-45,-40,-35,-30,-25,-20,-15,-10,-5,0,5,10,15,20,25,30,35,40,45],"tickSize":-7,"labels":false,"domain":false,"title":null,"zindex":1}}}},
{"data":{"name":"fEx"},"mark":{"type":"circle","size":36,"color":"red","opacity":1},"encoding":{
"x":{"field":"x","type":"quantitative","scale":{"domain":[0,2500],"range":[520.5,1905],"nice":false,"zero":false},"axis":{"orient":"top","offset":-344,"values":[60,120,180,240,300,360,420,480,540,600,660,720,780,840,900,960,1020,1080,1140,1200,1260,1320,1380,1440,1500,1560,1620,1680,1740,1800,1860,1920,1980,2040,2100,2160,2220,2280,2340,2400,2460],"tickSize":-7,"labels":false,"domain":false,"title":null,"zindex":1}},
"y":{"field":"y","type":"quantitative","scale":{"domain":[-50,50],"range":[589,344],"nice":false,"zero":false},"axis":{"orient":"right","offset":-2,"values":[-45,-40,-35,-30,-25,-20,-15,-10,-5,0,5,10,15,20,25,30,35,40,45],"tickSize":-7,"labels":false,"domain":false,"title":null,"zindex":1}}}},
{"mark":{"type":"circle","size":80,"color":"black","opacity":1},"encoding":{"x":{"datum":204,"type":"quantitative","axis":null},"y":{"datum":35,"type":"quantitative","axis":null}}},
{"mark":{"type":"circle","size":80,"color":"red","opacity":1},"encoding":{"x":{"datum":204,"type":"quantitative","axis":null},"y":{"datum":21.6,"type":"quantitative","axis":null}}},
{"mark":{"type":"text","text":"Float solution","fontSize":29,"align":"left","baseline":"middle"},"encoding":{"x":{"datum":241.6,"type":"quantitative","axis":null},"y":{"datum":35,"type":"quantitative","axis":null}}},
{"mark":{"type":"text","text":"Fixed solution","fontSize":29,"align":"left","baseline":"middle"},"encoding":{"x":{"datum":241.6,"type":"quantitative","axis":null},"y":{"datum":21.6,"type":"quantitative","axis":null}}},
{"mark":{"type":"text","text":"RMS","fontSize":29,"align":"left","baseline":"middle"},"encoding":{"x":{"datum":1680,"type":"quantitative","axis":null},"y":{"datum":39.5,"type":"quantitative","axis":null}}},
{"mark":{"type":"text","text":"float","fontSize":19,"align":"left","baseline":"alphabetic","dx":65,"dy":16},"encoding":{"x":{"datum":1680,"type":"quantitative","axis":null},"y":{"datum":39.5,"type":"quantitative","axis":null}}},
{"mark":{"type":"text","text":"=0.217m","fontSize":29,"align":"left","baseline":"middle","dx":101},"encoding":{"x":{"datum":1680,"type":"quantitative","axis":null},"y":{"datum":39.5,"type":"quantitative","axis":null}}},
{"mark":{"type":"text","text":"RMS","fontSize":29,"align":"left","baseline":"middle"},"encoding":{"x":{"datum":1680,"type":"quantitative","axis":null},"y":{"datum":25.1,"type":"quantitative","axis":null}}},
{"mark":{"type":"text","text":"fixed","fontSize":19,"align":"left","baseline":"alphabetic","dx":65,"dy":16},"encoding":{"x":{"datum":1680,"type":"quantitative","axis":null},"y":{"datum":25.1,"type":"quantitative","axis":null}}},
{"mark":{"type":"text","text":"=0.417m","fontSize":29,"align":"left","baseline":"middle","dx":105.5},"encoding":{"x":{"datum":1680,"type":"quantitative","axis":null},"y":{"datum":25.1,"type":"quantitative","axis":null}}}
],"resolve":{"axis":{"x":"independent","y":"independent"}}},
{"layer":[
{"mark":{"type":"rule","color":"#00ffff","strokeWidth":3.5},"encoding":{
"x":{"datum":0,"type":"quantitative","scale":{"domain":[0,2500],"range":[520.5,1905],"nice":false,"zero":false},"axis":{"orient":"bottom","offset":-341.5,"values":[600,1200,1800,2400],"tickSize":-14,"labels":false,"title":null,"zindex":1}},
"x2":{"datum":2500},
"y":{"datum":0,"type":"quantitative","scale":{"domain":[-50,50],"range":[857.5,613],"nice":false,"zero":false},"axis":{"orient":"left","offset":-520.5,"values":[-40,-20,0,20,40],"tickSize":-14,"labelPadding":21,"title":"North (cm)","titleX":-82.7,"titleBaseline":"middle","zindex":1}}}},
{"mark":{"type":"rule","color":"#00ffff","strokeWidth":3.5},"encoding":{
"x":{"datum":0,"type":"quantitative","scale":{"domain":[0,2500],"range":[520.5,1905],"nice":false,"zero":false},"axis":{"orient":"top","offset":-613,"values":[600,1200,1800,2400],"tickSize":-14,"labels":false,"title":null,"zindex":1}},
"x2":{"datum":2500},
"y":{"datum":0,"type":"quantitative","scale":{"domain":[-50,50],"range":[857.5,613],"nice":false,"zero":false},"axis":{"orient":"right","offset":-2,"values":[-40,-20,0,20,40],"tickSize":-14,"labels":false,"title":null,"zindex":1}}}},
{"data":{"name":"fNf"},"mark":{"type":"circle","size":36,"color":"black","opacity":1},"encoding":{
"x":{"field":"x","type":"quantitative","scale":{"domain":[0,2500],"range":[520.5,1905],"nice":false,"zero":false},"axis":{"orient":"bottom","offset":-341.5,"values":[60,120,180,240,300,360,420,480,540,600,660,720,780,840,900,960,1020,1080,1140,1200,1260,1320,1380,1440,1500,1560,1620,1680,1740,1800,1860,1920,1980,2040,2100,2160,2220,2280,2340,2400,2460],"tickSize":-7,"labels":false,"domain":false,"title":null,"zindex":1}},
"y":{"field":"y","type":"quantitative","scale":{"domain":[-50,50],"range":[857.5,613],"nice":false,"zero":false},"axis":{"orient":"left","offset":-520.5,"values":[-45,-40,-35,-30,-25,-20,-15,-10,-5,0,5,10,15,20,25,30,35,40,45],"tickSize":-7,"labels":false,"domain":false,"title":null,"zindex":1}}}},
{"data":{"name":"fNx"},"mark":{"type":"circle","size":36,"color":"red","opacity":1},"encoding":{
"x":{"field":"x","type":"quantitative","scale":{"domain":[0,2500],"range":[520.5,1905],"nice":false,"zero":false},"axis":{"orient":"top","offset":-613,"values":[60,120,180,240,300,360,420,480,540,600,660,720,780,840,900,960,1020,1080,1140,1200,1260,1320,1380,1440,1500,1560,1620,1680,1740,1800,1860,1920,1980,2040,2100,2160,2220,2280,2340,2400,2460],"tickSize":-7,"labels":false,"domain":false,"title":null,"zindex":1}},
"y":{"field":"y","type":"quantitative","scale":{"domain":[-50,50],"range":[857.5,613],"nice":false,"zero":false},"axis":{"orient":"right","offset":-2,"values":[-45,-40,-35,-30,-25,-20,-15,-10,-5,0,5,10,15,20,25,30,35,40,45],"tickSize":-7,"labels":false,"domain":false,"title":null,"zindex":1}}}},
{"mark":{"type":"text","text":"RMS","fontSize":29,"align":"left","baseline":"middle"},"encoding":{"x":{"datum":1680,"type":"quantitative","axis":null},"y":{"datum":39.5,"type":"quantitative","axis":null}}},
{"mark":{"type":"text","text":"float","fontSize":19,"align":"left","baseline":"alphabetic","dx":65,"dy":16},"encoding":{"x":{"datum":1680,"type":"quantitative","axis":null},"y":{"datum":39.5,"type":"quantitative","axis":null}}},
{"mark":{"type":"text","text":"=0.095m","fontSize":29,"align":"left","baseline":"middle","dx":101},"encoding":{"x":{"datum":1680,"type":"quantitative","axis":null},"y":{"datum":39.5,"type":"quantitative","axis":null}}},
{"mark":{"type":"text","text":"RMS","fontSize":29,"align":"left","baseline":"middle"},"encoding":{"x":{"datum":1680,"type":"quantitative","axis":null},"y":{"datum":25.6,"type":"quantitative","axis":null}}},
{"mark":{"type":"text","text":"fixed","fontSize":19,"align":"left","baseline":"alphabetic","dx":65,"dy":16},"encoding":{"x":{"datum":1680,"type":"quantitative","axis":null},"y":{"datum":25.6,"type":"quantitative","axis":null}}},
{"mark":{"type":"text","text":"=0.149m","fontSize":29,"align":"left","baseline":"middle","dx":105.5},"encoding":{"x":{"datum":1680,"type":"quantitative","axis":null},"y":{"datum":25.6,"type":"quantitative","axis":null}}}
],"resolve":{"axis":{"x":"independent","y":"independent"}}},
{"layer":[
{"mark":{"type":"rule","color":"#00ffff","strokeWidth":3.5},"encoding":{
"x":{"datum":0,"type":"quantitative","scale":{"domain":[0,2500],"range":[520.5,1905],"nice":false,"zero":false},"axis":{"orient":"bottom","offset":-73,"values":[0,240,480,720,960,1200,1440,1680,1920,2160,2400],"format":"d","tickSize":-14,"labelPadding":21,"title":"24 hours of data (30 seconds)","titleFontSize":29,"titleY":55,"titleBaseline":"middle","zindex":1}},
"x2":{"datum":2500},
"y":{"datum":0,"type":"quantitative","scale":{"domain":[-100,100],"range":[1126,881.5],"nice":false,"zero":false},"axis":{"orient":"left","offset":-520.5,"values":[-80,-40,0,40,80],"tickSize":-14,"labelPadding":21,"title":"Up (cm)","titleX":-82.7,"titleBaseline":"middle","zindex":1}}}},
{"mark":{"type":"rule","color":"#00ffff","strokeWidth":3.5},"encoding":{
"x":{"datum":0,"type":"quantitative","scale":{"domain":[0,2500],"range":[520.5,1905],"nice":false,"zero":false},"axis":{"orient":"top","offset":-881.5,"values":[0,240,480,720,960,1200,1440,1680,1920,2160,2400],"tickSize":-14,"labels":false,"title":null,"zindex":1}},
"x2":{"datum":2500},
"y":{"datum":0,"type":"quantitative","scale":{"domain":[-100,100],"range":[1126,881.5],"nice":false,"zero":false},"axis":{"orient":"right","offset":-2,"values":[-80,-40,0,40,80],"tickSize":-14,"labels":false,"title":null,"zindex":1}}}},
{"data":{"name":"fUf"},"mark":{"type":"circle","size":36,"color":"black","opacity":1},"encoding":{
"x":{"field":"x","type":"quantitative","scale":{"domain":[0,2500],"range":[520.5,1905],"nice":false,"zero":false},"axis":{"orient":"bottom","offset":-73,"values":[60,120,180,240,300,360,420,480,540,600,660,720,780,840,900,960,1020,1080,1140,1200,1260,1320,1380,1440,1500,1560,1620,1680,1740,1800,1860,1920,1980,2040,2100,2160,2220,2280,2340,2400,2460],"tickSize":-7,"labels":false,"domain":false,"title":null,"zindex":1}},
"y":{"field":"y","type":"quantitative","scale":{"domain":[-100,100],"range":[1126,881.5],"nice":false,"zero":false},"axis":{"orient":"left","offset":-520.5,"values":[-90,-80,-70,-60,-50,-40,-30,-20,-10,0,10,20,30,40,50,60,70,80,90],"tickSize":-7,"labels":false,"domain":false,"title":null,"zindex":1}}}},
{"data":{"name":"fUx"},"mark":{"type":"circle","size":36,"color":"red","opacity":1},"encoding":{
"x":{"field":"x","type":"quantitative","scale":{"domain":[0,2500],"range":[520.5,1905],"nice":false,"zero":false},"axis":{"orient":"top","offset":-881.5,"values":[60,120,180,240,300,360,420,480,540,600,660,720,780,840,900,960,1020,1080,1140,1200,1260,1320,1380,1440,1500,1560,1620,1680,1740,1800,1860,1920,1980,2040,2100,2160,2220,2280,2340,2400,2460],"tickSize":-7,"labels":false,"domain":false,"title":null,"zindex":1}},
"y":{"field":"y","type":"quantitative","scale":{"domain":[-100,100],"range":[1126,881.5],"nice":false,"zero":false},"axis":{"orient":"right","offset":-2,"values":[-90,-80,-70,-60,-50,-40,-30,-20,-10,0,10,20,30,40,50,60,70,80,90],"tickSize":-7,"labels":false,"domain":false,"title":null,"zindex":1}}}},
{"mark":{"type":"text","text":"RMS","fontSize":29,"align":"left","baseline":"middle"},"encoding":{"x":{"datum":1680,"type":"quantitative","axis":null},"y":{"datum":80,"type":"quantitative","axis":null}}},
{"mark":{"type":"text","text":"float","fontSize":19,"align":"left","baseline":"alphabetic","dx":65,"dy":16},"encoding":{"x":{"datum":1680,"type":"quantitative","axis":null},"y":{"datum":80,"type":"quantitative","axis":null}}},
{"mark":{"type":"text","text":"=0.196m","fontSize":29,"align":"left","baseline":"middle","dx":101},"encoding":{"x":{"datum":1680,"type":"quantitative","axis":null},"y":{"datum":80,"type":"quantitative","axis":null}}},
{"mark":{"type":"text","text":"RMS","fontSize":29,"align":"left","baseline":"middle"},"encoding":{"x":{"datum":1680,"type":"quantitative","axis":null},"y":{"datum":54,"type":"quantitative","axis":null}}},
{"mark":{"type":"text","text":"fixed","fontSize":19,"align":"left","baseline":"alphabetic","dx":65,"dy":16},"encoding":{"x":{"datum":1680,"type":"quantitative","axis":null},"y":{"datum":54,"type":"quantitative","axis":null}}},
{"mark":{"type":"text","text":"=0.364m","fontSize":29,"align":"left","baseline":"middle","dx":105.5},"encoding":{"x":{"datum":1680,"type":"quantitative","axis":null},"y":{"datum":54,"type":"quantitative","axis":null}}}
],"resolve":{"axis":{"x":"independent","y":"independent"}}}
],
"resolve":{"scale":{"x":"independent","y":"independent"},"axis":{"x":"independent","y":"independent"}}
}
